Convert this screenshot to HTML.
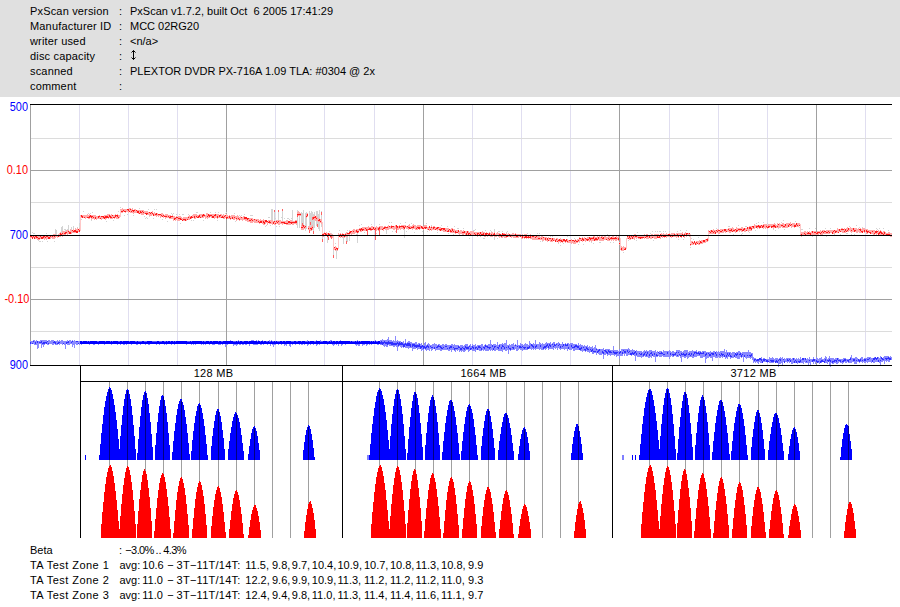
<!DOCTYPE html>
<html><head><meta charset="utf-8"><title>PxScan</title><style>
html,body{margin:0;padding:0}
body{width:900px;height:607px;overflow:hidden;background:#fff;position:relative;font-family:"Liberation Sans",sans-serif;color:#000}
#hdr{position:absolute;left:0;top:0;width:900px;height:97px;background:#e0e0e0}
.t{position:absolute;font-size:11px;line-height:13px;white-space:pre}
.yl{position:absolute;left:0;width:28px;text-align:right;font-size:13px;line-height:15px;white-space:pre;transform:scaleX(0.84);transform-origin:100% 50%}
.pl{position:absolute;width:120px;text-align:center;font-size:11px;line-height:13px;white-space:pre;letter-spacing:0.3px}
svg{position:absolute;left:0;top:0}
</style></head><body>
<div id="hdr"></div>
<svg width="900" height="607" viewBox="0 0 900 607" shape-rendering="crispEdges">
<rect x="79" y="105" width="1" height="260" fill="#e0def0"/>
<rect x="128" y="105" width="1" height="260" fill="#e0def0"/>
<rect x="177" y="105" width="1" height="260" fill="#e0def0"/>
<rect x="275" y="105" width="1" height="260" fill="#e0def0"/>
<rect x="324" y="105" width="1" height="260" fill="#e0def0"/>
<rect x="374" y="105" width="1" height="260" fill="#e0def0"/>
<rect x="472" y="105" width="1" height="260" fill="#e0def0"/>
<rect x="521" y="105" width="1" height="260" fill="#e0def0"/>
<rect x="570" y="105" width="1" height="260" fill="#e0def0"/>
<rect x="669" y="105" width="1" height="260" fill="#e0def0"/>
<rect x="718" y="105" width="1" height="260" fill="#e0def0"/>
<rect x="767" y="105" width="1" height="260" fill="#e0def0"/>
<rect x="865" y="105" width="1" height="260" fill="#e0def0"/>
<rect x="31" y="138" width="861" height="1" fill="#dcdcdc"/>
<rect x="31" y="202" width="861" height="1" fill="#dcdcdc"/>
<rect x="31" y="267" width="861" height="1" fill="#dcdcdc"/>
<rect x="31" y="331" width="861" height="1" fill="#dcdcdc"/>
<rect x="31" y="170" width="861" height="1" fill="#a0a0a0"/>
<rect x="31" y="299" width="861" height="1" fill="#a0a0a0"/>
<rect x="226" y="105" width="1" height="260" fill="#a0a0a0"/>
<rect x="423" y="105" width="1" height="260" fill="#a0a0a0"/>
<rect x="619" y="105" width="1" height="260" fill="#a0a0a0"/>
<rect x="816" y="105" width="1" height="260" fill="#a0a0a0"/>
<rect x="30" y="104" width="1" height="261" fill="#a0a0a0"/>
<path d="M32.5 232.3V233.3M33.5 233.0V234.0M34.5 232.9V233.9M38.5 240.1V241.1M39.5 240.5V241.5M40.5 240.8V241.8M42.5 240.6V241.6M46.5 233.3V234.3M47.5 240.8V241.8M54.5 240.8V241.8M55.5 229.0V236.2M56.5 230.3V236.1M60.5 231.5V234.7M61.5 226.6V234.3M62.5 229.8V230.8M62.5 226.0V233.9M64.5 228.8V229.8M65.5 229.1V232.9M67.5 229.0V230.0M68.5 224.9V232.3M71.5 227.2V228.2M71.5 226.5V231.7M73.5 225.5V231.3M77.5 227.1V230.8M79.5 225.1V226.1M79.5 222.8V230.6M81.5 219.2V220.2M83.5 211.1V212.1M88.5 213.1V214.1M90.5 212.7V213.7M91.5 220.3V221.3M92.5 212.3V213.3M106.5 220.8V221.8M113.5 220.1V221.1M118.5 211.2V212.2M120.5 206.7V207.7M124.5 214.7V215.7M127.5 214.3V215.3M133.5 214.7V215.7M139.5 208.4V209.4M144.5 215.6V216.6M145.5 217.5V218.5M146.5 216.7V217.7M147.5 217.8V218.8M148.5 208.9V209.9M149.5 216.3V217.3M153.5 217.9V218.9M154.5 208.9V209.9M156.5 209.2V210.2M162.5 218.5V219.5M167.5 220.9V221.9M171.5 212.8V213.8M172.5 213.6V214.6M173.5 213.4V214.4M176.5 214.1V215.1M179.5 214.0V215.0M180.5 222.9V223.9M182.5 214.0V215.0M183.5 214.2V215.2M188.5 213.8V214.8M191.5 219.9V220.9M193.5 219.6V220.6M196.5 212.1V213.1M197.5 211.5V212.5M203.5 220.1V221.1M210.5 211.5V212.5M215.5 212.0V213.0M217.5 220.0V221.0M218.5 211.6V212.6M225.5 213.1V214.1M226.5 212.2V213.2M234.5 212.5V213.5M235.5 221.0V222.0M239.5 214.6V215.6M241.5 214.9V215.9M244.5 213.8V214.8M250.5 215.4V216.4M251.5 214.6V215.6M252.5 214.9V215.9M265.5 225.8V226.8M266.5 225.4V226.4M268.5 216.8V217.8M269.5 217.3V218.3M270.5 225.2V226.2M271.5 209.1V222.3M272.5 209.3V222.3M274.5 209.7V222.5M275.5 217.5V218.5M276.5 226.3V227.3M278.5 209.7V222.5M279.5 225.9V226.9M281.5 217.4V218.4M282.5 209.1V222.5M284.5 217.7V218.7M287.5 217.9V218.9M288.5 218.1V219.1M289.5 218.7V219.7M291.5 217.6V218.6M292.5 210.2V222.5M297.5 210.2V227.5M299.5 212.7V228.3M301.5 211.7V227.6M302.5 222.0V223.0M302.5 212.8V228.0M303.5 210.3V228.4M305.5 213.0V230.6M306.5 212.0V229.3M309.5 210.7V230.8M310.5 213.0V227.7M311.5 210.6V230.2M312.5 211.8V229.4M313.5 213.6V231.0M314.5 211.9V227.9M316.5 211.4V226.3M317.5 210.8V227.1M318.5 213.7V228.5M319.5 223.8V224.8M319.5 210.1V231.0M321.5 210.8V226.9M322.5 232.0V242.4M327.5 232.7V243.0M328.5 232.9V240.0M329.5 231.3V232.3M331.5 233.3V239.3M333.5 246.0V258.2M335.5 243.0V244.0M336.5 246.7V259.2M338.5 238.4V239.4M339.5 230.3V231.3M343.5 233.5V243.6M346.5 232.8V244.3M347.5 230.4V231.4M347.5 232.2V242.2M349.5 229.7V230.7M349.5 231.2V240.7M356.5 234.0V235.0M357.5 230.8V242.6M359.5 224.7V225.7M361.5 224.4V225.4M364.5 232.0V233.0M371.5 224.0V225.0M376.5 232.7V233.7M379.5 223.6V224.6M386.5 227.7V234.2M389.5 222.1V223.1M391.5 222.2V223.2M392.5 231.1V232.1M395.5 231.2V232.2M400.5 222.6V223.6M404.5 227.1V238.0M405.5 222.2V223.2M406.5 231.2V232.2M411.5 222.7V223.7M414.5 231.5V232.5M422.5 231.3V232.3M426.5 222.5V223.5M427.5 231.3V232.3M431.5 224.7V225.7M437.5 231.5V232.5M441.5 224.6V225.6M447.5 226.2V227.2M448.5 233.2V234.2M453.5 233.8V234.8M454.5 225.8V226.8M457.5 227.6V228.6M458.5 228.1V229.1M463.5 228.3V229.3M469.5 237.5V238.5M473.5 230.2V231.2M474.5 229.9V230.9M475.5 229.1V230.1M483.5 238.2V239.2M484.5 237.9V238.9M485.5 230.4V231.4M490.5 230.2V231.2M491.5 230.6V231.6M494.5 229.4V240.0M497.5 237.8V238.8M498.5 230.5V231.5M499.5 230.5V231.5M502.5 231.4V232.4M506.5 231.6V232.6M507.5 230.8V231.8M527.5 233.2V234.2M537.5 233.4V234.4M539.5 232.8V233.8M540.5 240.7V241.7M542.5 241.2V242.2M550.5 235.7V236.7M552.5 235.8V236.8M558.5 243.1V244.1M560.5 244.8V245.8M563.5 243.3V244.3M567.5 236.2V237.2M574.5 237.5V238.5M578.5 244.1V245.1M579.5 242.3V243.3M583.5 243.5V244.5M589.5 236.5V241.6M591.5 241.8V242.8M593.5 243.1V244.1M595.5 235.0V236.0M599.5 242.0V243.0M600.5 241.9V242.9M607.5 233.6V234.6M610.5 242.0V243.0M613.5 241.7V242.7M623.5 252.2V253.2M628.5 240.2V241.2M636.5 239.9V240.9M637.5 232.0V233.0M650.5 232.6V233.6M652.5 231.1V232.1M653.5 240.0V241.0M655.5 231.3V232.3M657.5 231.4V232.4M659.5 230.7V231.7M660.5 231.0V232.0M663.5 230.9V231.9M665.5 230.9V231.9M669.5 231.0V232.0M677.5 230.5V231.5M678.5 239.2V240.2M680.5 230.2V231.2M683.5 238.6V239.6M686.5 229.8V230.8M690.5 246.7V247.7M691.5 238.3V239.3M693.5 238.7V239.7M698.5 237.4V238.4M716.5 227.9V228.9M720.5 235.0V236.0M728.5 225.9V226.9M729.5 225.9V226.9M733.5 234.2V235.2M738.5 224.5V225.5M741.5 233.7V234.7M742.5 233.3V234.3M745.5 225.8V226.8M746.5 225.6V226.6M749.5 231.8V232.8M755.5 229.5V230.5M756.5 222.5V223.5M758.5 222.0V223.0M763.5 221.5V222.5M767.5 222.5V223.5M773.5 229.4V230.4M775.5 229.9V230.9M778.5 228.3V229.3M781.5 222.1V223.1M783.5 220.4V221.4M784.5 229.3V230.3M795.5 220.5V221.5M799.5 227.3V228.3M801.5 229.2V230.2M802.5 228.5V229.5M809.5 228.1V229.1M812.5 236.0V237.0M815.5 228.3V229.3M825.5 227.5V228.5M826.5 235.9V236.9M829.5 234.5V235.5M830.5 227.9V228.9M834.5 234.1V235.1M840.5 234.4V235.4M846.5 233.0V234.0M847.5 233.1V234.1M849.5 226.0V227.0M851.5 234.1V235.1M854.5 234.1V235.1M856.5 225.1V226.1M859.5 226.6V227.6M862.5 226.8V227.8M872.5 235.4V236.4M876.5 227.5V228.5M877.5 228.6V229.6M879.5 227.5V228.5M883.5 228.1V229.1M888.5 230.4V231.4" stroke="#d4d4d4" stroke-width="1" fill="none"/>
<path d="M30.5 235.3V238.5M31.5 235.3V238.3M32.5 235.8V238.4M33.5 235.0V238.4M34.5 235.7V238.5M35.5 235.1V238.5M36.5 235.3V238.9M37.5 234.8V239.6M38.5 234.7V239.7M39.5 235.6V240.0M40.5 235.6V239.3M41.5 235.1V238.7M42.5 234.9V239.1M43.5 235.3V239.4M44.5 235.6V240.2M45.5 235.8V238.9M46.5 234.5V239.6M47.5 235.6V239.2M48.5 234.9V238.8M49.5 234.7V239.3M50.5 234.5V238.9M51.5 234.8V238.2M52.5 235.2V238.7M53.5 233.7V238.6M54.5 234.1V239.0M55.5 234.2V238.2M56.5 234.6V237.3M57.5 234.6V237.9M58.5 233.8V237.2M59.5 233.3V236.6M60.5 232.2V237.2M61.5 233.1V236.0M62.5 231.2V236.7M63.5 231.4V234.8M64.5 230.7V234.6M65.5 231.6V235.6M66.5 229.9V233.9M67.5 230.3V234.5M68.5 229.9V233.7M69.5 230.9V233.6M70.5 229.4V233.2M71.5 229.7V234.2M72.5 230.0V232.7M73.5 229.2V233.0M74.5 229.5V232.7M75.5 228.3V232.9M76.5 228.9V232.9M77.5 228.0V232.4M78.5 228.7V232.0M79.5 227.9V232.0M80.5 214.7V218.5M81.5 215.1V218.4M82.5 214.8V218.3M83.5 214.5V218.2M84.5 215.2V218.2M85.5 215.2V218.5M86.5 215.0V218.1M87.5 214.4V218.0M88.5 215.4V219.4M89.5 214.2V218.7M90.5 215.1V218.2M91.5 215.3V219.5M92.5 215.3V218.6M93.5 215.2V218.7M94.5 214.8V219.5M95.5 215.3V218.5M96.5 215.5V219.7M97.5 215.7V219.1M98.5 215.7V219.2M99.5 214.8V219.3M100.5 215.8V218.8M101.5 215.7V219.6M102.5 215.6V218.6M103.5 215.5V219.4M104.5 215.2V219.1M105.5 215.4V219.5M106.5 214.5V218.8M107.5 214.3V218.2M108.5 214.3V219.3M109.5 214.4V218.3M110.5 215.3V219.2M111.5 214.4V218.7M112.5 214.6V218.7M113.5 215.0V217.9M114.5 214.8V218.6M115.5 214.4V217.9M116.5 214.9V218.7M117.5 214.3V218.9M118.5 214.6V218.5M119.5 215.3V218.4M120.5 208.6V212.1M121.5 208.5V213.2M122.5 207.9V212.8M123.5 209.3V211.7M124.5 209.1V212.3M125.5 209.1V213.2M126.5 208.7V212.3M127.5 208.7V212.4M128.5 209.1V213.3M129.5 208.0V212.4M130.5 208.0V212.7M131.5 208.9V212.9M132.5 208.3V213.0M133.5 209.5V213.5M134.5 209.4V212.7M135.5 209.4V213.0M136.5 209.7V213.0M137.5 210.4V213.3M138.5 209.5V213.8M139.5 210.3V213.4M140.5 209.6V214.1M141.5 209.9V215.2M142.5 210.1V215.3M143.5 210.1V214.8M144.5 211.4V214.4M145.5 210.6V214.3M146.5 211.0V215.2M147.5 211.2V215.2M148.5 211.8V215.2M149.5 212.4V215.5M150.5 212.2V215.6M151.5 211.5V215.6M152.5 211.4V215.3M153.5 212.6V216.1M154.5 211.6V216.2M155.5 213.1V215.6M156.5 213.0V216.5M157.5 212.9V216.2M158.5 213.5V217.1M159.5 213.5V216.1M160.5 213.7V217.8M161.5 212.8V217.2M162.5 212.8V217.0M163.5 213.5V217.5M164.5 214.6V217.4M165.5 214.4V218.8M166.5 213.6V218.0M167.5 213.8V217.8M168.5 214.9V218.3M169.5 215.4V219.4M170.5 214.9V218.8M171.5 216.0V218.8M172.5 215.4V219.0M173.5 215.8V220.5M174.5 215.7V220.2M175.5 216.7V220.6M176.5 215.8V219.7M177.5 216.5V221.2M178.5 216.3V221.3M179.5 216.1V221.3M180.5 216.3V220.3M181.5 216.7V220.2M182.5 217.9V220.9M183.5 216.8V221.1M184.5 217.3V220.7M185.5 217.1V220.7M186.5 217.3V220.6M187.5 216.5V220.3M188.5 216.4V219.7M189.5 215.3V219.7M190.5 216.0V218.7M191.5 215.7V219.3M192.5 215.2V218.0M193.5 214.0V218.2M194.5 214.3V218.7M195.5 213.8V218.6M196.5 214.2V217.9M197.5 214.9V217.9M198.5 214.6V218.1M199.5 214.0V217.9M200.5 214.2V217.7M201.5 214.2V218.3M202.5 213.6V217.9M203.5 213.6V218.1M204.5 214.0V217.3M205.5 214.6V218.6M206.5 213.4V217.5M207.5 213.2V218.6M208.5 214.6V217.6M209.5 214.2V218.3M210.5 214.3V217.4M211.5 213.7V217.5M212.5 214.3V218.4M213.5 214.1V218.0M214.5 214.0V218.6M215.5 214.3V217.5M216.5 214.1V217.9M217.5 213.5V218.9M218.5 214.4V218.3M219.5 215.1V217.6M220.5 214.3V218.3M221.5 213.9V217.9M222.5 214.6V217.8M223.5 214.1V219.3M224.5 214.5V218.7M225.5 215.2V217.9M226.5 214.3V218.0M227.5 214.7V219.1M228.5 215.7V219.2M229.5 215.2V219.2M230.5 215.9V219.5M231.5 215.1V218.8M232.5 214.8V219.1M233.5 215.3V220.3M234.5 215.0V220.4M235.5 216.3V219.3M236.5 216.4V220.6M237.5 215.3V220.0M238.5 215.6V220.1M239.5 216.8V220.5M240.5 216.3V219.9M241.5 217.3V220.0M242.5 216.6V220.5M243.5 216.2V220.1M244.5 216.2V220.3M245.5 216.9V220.7M246.5 217.7V221.0M247.5 217.8V221.8M248.5 217.6V222.1M249.5 217.9V222.2M250.5 218.4V222.5M251.5 218.4V222.5M252.5 218.1V223.0M253.5 218.8V221.9M254.5 218.6V223.4M255.5 219.4V223.4M256.5 219.0V223.2M257.5 219.0V222.6M258.5 218.5V222.7M259.5 220.2V223.5M260.5 219.4V223.3M261.5 220.0V223.3M262.5 220.0V224.1M263.5 219.4V224.5M264.5 220.2V224.5M265.5 220.4V224.1M266.5 220.0V223.4M267.5 220.8V224.6M268.5 220.4V223.3M269.5 220.2V224.3M270.5 220.0V224.1M271.5 219.9V223.7M272.5 220.1V224.9M273.5 221.0V224.0M274.5 220.7V225.0M275.5 220.8V224.9M276.5 220.3V224.1M277.5 220.4V223.9M278.5 219.7V225.2M279.5 220.3V224.9M280.5 220.4V223.9M281.5 220.9V224.3M282.5 220.7V224.7M283.5 220.8V224.3M284.5 220.5V224.3M285.5 221.1V223.9M286.5 219.9V225.0M287.5 220.2V225.1M288.5 220.6V225.1M289.5 220.5V225.1M290.5 220.2V224.5M291.5 220.2V224.0M292.5 220.8V225.3M293.5 220.8V225.1M294.5 221.0V224.4M295.5 220.0V224.3M296.5 220.3V225.0M297.5 211.8V216.5M298.5 211.3V216.2M299.5 211.8V216.2M300.5 212.6V215.5M301.5 225.2V229.5M302.5 224.8V229.7M303.5 224.8V229.8M304.5 224.8V228.9M305.5 225.5V228.4M306.5 213.6V218.3M307.5 213.3V217.3M308.5 225.8V229.8M309.5 225.8V229.7M310.5 226.5V230.5M311.5 225.8V230.5M312.5 225.2V229.6M313.5 215.7V219.8M314.5 215.2V219.8M315.5 215.8V221.0M316.5 216.0V220.9M317.5 217.2V220.9M318.5 218.1V221.9M319.5 218.5V222.2M320.5 218.8V222.9M321.5 218.8V223.8M322.5 231.9V236.6M323.5 232.8V236.9M324.5 232.0V236.1M325.5 232.9V235.7M326.5 232.0V235.8M327.5 233.4V236.1M328.5 233.5V236.6M329.5 232.7V236.2M330.5 233.3V237.5M331.5 234.1V236.6M332.5 233.7V237.8M333.5 246.6V249.9M334.5 246.8V250.2M335.5 246.0V251.1M336.5 247.0V250.2M337.5 247.5V251.1M338.5 233.0V238.2M339.5 234.1V237.0M340.5 233.1V237.9M341.5 234.0V237.2M342.5 232.8V237.5M343.5 234.2V237.4M344.5 234.2V237.8M345.5 232.5V236.6M346.5 232.3V237.3M347.5 233.0V236.7M348.5 232.5V236.4M349.5 231.3V234.8M350.5 231.2V234.2M351.5 231.1V234.7M352.5 230.4V234.1M353.5 229.2V234.4M354.5 228.9V234.1M355.5 230.1V233.4M356.5 229.2V233.3M357.5 229.2V232.6M358.5 229.2V233.0M359.5 227.7V231.4M360.5 228.2V232.1M361.5 228.0V231.6M362.5 227.3V231.1M363.5 226.9V230.8M364.5 227.3V231.0M365.5 227.0V231.0M366.5 226.5V230.6M367.5 227.0V229.8M368.5 226.1V229.9M369.5 226.8V230.3M370.5 226.5V230.9M371.5 226.2V231.2M372.5 226.4V230.4M373.5 226.6V230.4M374.5 226.7V230.2M375.5 227.0V230.2M376.5 225.9V230.9M377.5 227.1V229.9M378.5 226.6V230.5M379.5 226.3V229.5M380.5 226.0V230.3M381.5 226.2V230.3M382.5 225.5V229.5M383.5 226.6V230.6M384.5 226.0V229.3M385.5 226.3V230.0M386.5 226.5V229.6M387.5 225.5V229.9M388.5 225.4V229.7M389.5 226.1V229.0M390.5 225.5V229.4M391.5 225.3V228.9M392.5 226.1V228.9M393.5 225.5V229.6M394.5 225.7V230.0M395.5 224.6V229.4M396.5 225.5V229.2M397.5 226.1V229.9M398.5 225.6V229.5M399.5 225.2V229.1M400.5 226.0V229.7M401.5 224.7V228.8M402.5 225.1V228.9M403.5 224.5V230.0M404.5 225.3V229.2M405.5 224.7V228.4M406.5 225.5V228.6M407.5 225.6V229.4M408.5 225.3V229.6M409.5 224.3V228.5M410.5 225.8V229.3M411.5 225.7V228.7M412.5 225.2V229.5M413.5 224.4V229.2M414.5 224.9V229.3M415.5 225.1V229.5M416.5 225.5V229.7M417.5 224.5V229.5M418.5 225.4V229.1M419.5 225.4V229.6M420.5 225.4V228.9M421.5 226.0V228.9M422.5 226.0V229.2M423.5 226.0V229.6M424.5 225.0V229.1M425.5 225.3V229.2M426.5 225.3V229.2M427.5 226.5V229.6M428.5 226.5V229.3M429.5 225.7V230.8M430.5 226.7V230.2M431.5 225.6V230.5M432.5 226.9V230.1M433.5 226.1V229.8M434.5 226.3V230.3M435.5 227.0V229.9M436.5 226.8V230.0M437.5 226.6V231.0M438.5 227.0V230.4M439.5 226.5V230.8M440.5 227.3V231.0M441.5 227.6V231.1M442.5 227.5V231.4M443.5 228.2V232.0M444.5 227.8V231.5M445.5 227.6V232.4M446.5 227.8V232.1M447.5 228.2V231.7M448.5 228.0V231.8M449.5 229.0V232.4M450.5 228.7V233.2M451.5 227.9V233.1M452.5 228.1V233.0M453.5 229.4V232.8M454.5 228.5V232.5M455.5 229.9V233.7M456.5 230.1V233.3M457.5 229.5V233.0M458.5 229.9V234.3M459.5 230.5V234.6M460.5 229.9V233.7M461.5 230.3V233.5M462.5 231.1V234.9M463.5 230.0V235.3M464.5 231.0V234.1M465.5 231.1V234.8M466.5 231.0V234.5M467.5 230.8V234.6M468.5 231.2V235.4M469.5 232.1V234.9M470.5 231.1V235.0M471.5 231.0V235.2M472.5 231.3V235.9M473.5 231.0V236.2M474.5 231.8V235.6M475.5 232.2V235.9M476.5 232.3V236.0M477.5 232.0V236.5M478.5 232.3V235.2M479.5 232.1V235.5M480.5 231.7V236.8M481.5 232.3V235.5M482.5 231.4V235.7M483.5 231.9V235.9M484.5 232.4V236.9M485.5 233.0V236.5M486.5 231.8V236.1M487.5 232.9V237.1M488.5 232.5V235.7M489.5 232.4V236.3M490.5 233.2V237.0M491.5 231.9V236.8M492.5 232.2V237.3M493.5 232.6V236.4M494.5 232.1V237.4M495.5 233.6V237.3M496.5 233.3V236.6M497.5 232.3V236.1M498.5 232.7V236.6M499.5 232.5V237.7M500.5 233.6V237.3M501.5 233.5V237.7M502.5 232.5V237.9M503.5 233.2V236.9M504.5 233.0V237.5M505.5 233.8V237.5M506.5 233.0V237.7M507.5 234.0V237.3M508.5 232.7V236.7M509.5 233.9V236.8M510.5 234.0V236.8M511.5 234.3V237.5M512.5 233.2V237.3M513.5 233.3V238.3M514.5 234.1V237.7M515.5 233.0V238.3M516.5 233.5V237.7M517.5 233.9V238.0M518.5 233.9V237.7M519.5 234.2V237.3M520.5 233.5V237.4M521.5 234.5V238.7M522.5 234.1V239.0M523.5 234.9V238.1M524.5 233.7V239.0M525.5 234.0V238.4M526.5 234.4V238.7M527.5 234.8V238.1M528.5 234.9V239.1M529.5 234.9V238.2M530.5 234.4V238.7M531.5 235.8V238.6M532.5 234.6V239.6M533.5 235.5V239.5M534.5 235.3V240.2M535.5 236.0V240.1M536.5 235.0V239.9M537.5 235.4V239.6M538.5 235.8V240.4M539.5 235.7V240.0M540.5 236.8V240.1M541.5 235.8V240.2M542.5 235.5V240.8M543.5 236.9V240.5M544.5 236.9V240.4M545.5 237.1V240.5M546.5 237.3V241.1M547.5 237.5V241.6M548.5 236.7V240.3M549.5 237.6V241.1M550.5 237.5V241.7M551.5 238.1V241.6M552.5 237.6V241.8M553.5 238.2V241.0M554.5 237.6V241.4M555.5 238.6V242.3M556.5 237.9V241.8M557.5 237.6V241.6M558.5 238.5V242.5M559.5 238.7V242.3M560.5 238.3V242.6M561.5 239.1V242.2M562.5 238.7V243.1M563.5 238.6V242.1M564.5 238.9V242.4M565.5 239.6V243.0M566.5 239.0V242.2M567.5 238.9V242.8M568.5 239.9V243.3M569.5 239.8V242.7M570.5 239.6V243.3M571.5 239.2V244.0M572.5 239.7V242.7M573.5 239.9V243.8M574.5 239.6V243.7M575.5 238.8V243.6M576.5 239.6V243.1M577.5 238.6V243.2M578.5 238.8V241.7M579.5 237.0V242.0M580.5 237.7V240.8M581.5 237.6V241.3M582.5 237.4V241.8M583.5 238.0V241.3M584.5 236.7V241.0M585.5 237.8V242.0M586.5 237.7V241.1M587.5 236.8V241.0M588.5 236.6V240.9M589.5 236.9V241.6M590.5 236.5V240.8M591.5 237.2V241.5M592.5 237.0V240.9M593.5 236.2V240.6M594.5 236.1V240.6M595.5 237.2V241.3M596.5 236.6V240.9M597.5 236.2V240.9M598.5 236.6V240.3M599.5 236.2V241.2M600.5 237.3V241.1M601.5 235.9V240.9M602.5 235.8V241.1M603.5 236.7V240.9M604.5 236.4V240.4M605.5 236.2V240.3M606.5 236.9V240.0M607.5 237.1V240.5M608.5 236.4V241.3M609.5 235.9V240.5M610.5 236.7V240.2M611.5 237.0V241.1M612.5 235.9V240.4M613.5 236.0V241.1M614.5 236.9V240.1M615.5 236.6V241.0M616.5 236.3V240.8M617.5 236.8V240.3M618.5 235.9V240.6M619.5 241.8V244.8M620.5 246.4V250.3M621.5 246.0V251.0M622.5 246.5V251.1M623.5 246.0V250.7M624.5 246.9V249.8M625.5 247.0V250.1M626.5 240.5V244.8M627.5 235.8V238.7M628.5 236.1V239.3M629.5 235.8V239.6M630.5 235.8V239.8M631.5 235.2V238.6M632.5 235.4V238.6M633.5 235.4V239.2M634.5 234.4V239.7M635.5 234.4V238.4M636.5 234.8V239.4M637.5 234.6V238.4M638.5 234.6V239.4M639.5 235.3V239.4M640.5 235.7V238.7M641.5 234.5V238.9M642.5 235.1V238.6M643.5 234.9V238.0M644.5 234.2V238.5M645.5 235.4V238.4M646.5 234.1V238.7M647.5 234.4V239.3M648.5 234.5V239.0M649.5 234.6V237.9M650.5 235.2V239.0M651.5 234.3V239.1M652.5 234.3V238.3M653.5 234.5V237.7M654.5 233.6V238.6M655.5 234.1V238.6M656.5 234.2V238.8M657.5 234.3V238.4M658.5 233.7V237.3M659.5 234.8V237.3M660.5 233.8V238.6M661.5 233.3V237.3M662.5 234.2V237.9M663.5 233.2V237.1M664.5 233.5V238.0M665.5 234.2V237.2M666.5 232.9V237.9M667.5 234.3V237.2M668.5 234.2V237.2M669.5 233.4V237.3M670.5 233.5V237.3M671.5 233.1V237.9M672.5 233.0V236.6M673.5 232.7V236.8M674.5 232.9V236.9M675.5 233.9V237.1M676.5 232.5V237.6M677.5 232.7V236.8M678.5 233.3V237.6M679.5 233.0V236.4M680.5 232.8V236.8M681.5 232.9V237.6M682.5 232.1V236.2M683.5 233.6V236.4M684.5 233.3V237.5M685.5 232.0V236.1M686.5 232.5V236.9M687.5 232.9V235.9M688.5 233.1V236.0M689.5 232.9V237.0M690.5 241.6V245.8M691.5 240.9V244.6M692.5 241.0V244.9M693.5 241.7V245.4M694.5 240.5V244.4M695.5 241.7V244.6M696.5 241.1V244.9M697.5 241.0V244.2M698.5 241.2V245.1M699.5 240.1V245.1M700.5 241.1V243.7M701.5 240.1V244.0M702.5 239.9V243.7M703.5 239.5V242.7M704.5 239.5V242.8M705.5 239.2V243.0M706.5 238.7V241.8M707.5 238.1V241.9M708.5 229.8V235.0M709.5 231.0V234.0M710.5 230.3V233.9M711.5 229.5V234.3M712.5 229.5V234.2M713.5 229.2V233.6M714.5 229.5V234.0M715.5 229.7V234.1M716.5 229.8V233.2M717.5 228.6V232.9M718.5 229.2V234.0M719.5 229.5V233.9M720.5 229.3V232.8M721.5 229.3V233.4M722.5 228.9V232.9M723.5 229.1V232.6M724.5 229.3V232.4M725.5 229.3V233.1M726.5 229.0V232.0M727.5 229.1V232.4M728.5 227.8V231.7M729.5 227.8V232.9M730.5 228.3V232.6M731.5 228.3V232.4M732.5 227.4V232.4M733.5 227.6V232.4M734.5 228.8V232.0M735.5 228.5V232.7M736.5 227.2V231.4M737.5 228.3V232.2M738.5 228.4V231.3M739.5 227.5V231.9M740.5 227.6V231.4M741.5 227.3V231.8M742.5 227.3V231.7M743.5 228.0V230.7M744.5 228.1V232.0M745.5 228.1V231.8M746.5 227.7V230.9M747.5 227.8V230.7M748.5 227.4V231.5M749.5 226.3V230.7M750.5 226.2V230.5M751.5 225.5V230.7M752.5 226.1V229.0M753.5 225.9V228.7M754.5 224.2V228.9M755.5 224.6V227.7M756.5 224.8V228.3M757.5 224.8V228.6M758.5 224.9V228.1M759.5 224.6V228.7M760.5 224.5V228.4M761.5 224.6V228.0M762.5 224.7V227.5M763.5 223.6V228.5M764.5 224.3V227.5M765.5 224.2V228.7M766.5 223.8V228.2M767.5 224.8V228.5M768.5 223.8V227.3M769.5 224.3V228.1M770.5 223.6V227.3M771.5 223.9V228.3M772.5 224.1V227.5M773.5 224.1V228.5M774.5 223.1V228.0M775.5 223.5V227.3M776.5 224.6V227.8M777.5 223.0V228.0M778.5 223.5V228.0M779.5 223.3V227.9M780.5 223.9V228.2M781.5 223.8V227.4M782.5 223.3V228.0M783.5 223.0V227.7M784.5 223.8V227.7M785.5 224.1V228.0M786.5 222.7V228.0M787.5 222.6V227.7M788.5 222.5V227.1M789.5 222.8V226.9M790.5 222.4V226.3M791.5 223.7V227.6M792.5 223.1V227.2M793.5 223.2V226.6M794.5 223.1V227.5M795.5 223.5V226.7M796.5 222.9V227.4M797.5 223.4V226.8M798.5 223.2V226.6M799.5 222.8V226.1M800.5 231.8V235.3M801.5 231.9V236.7M802.5 232.1V236.4M803.5 231.7V236.2M804.5 231.0V235.3M805.5 231.0V236.4M806.5 232.2V235.8M807.5 231.4V235.1M808.5 231.5V234.8M809.5 231.0V235.0M810.5 231.8V235.4M811.5 230.9V234.9M812.5 231.9V235.9M813.5 231.2V235.3M814.5 230.6V234.6M815.5 230.8V234.6M816.5 231.5V234.6M817.5 230.7V234.8M818.5 230.7V234.7M819.5 231.4V234.0M820.5 230.0V234.8M821.5 231.2V235.0M822.5 230.2V235.2M823.5 230.0V233.6M824.5 230.4V234.0M825.5 230.8V234.3M826.5 229.6V234.0M827.5 230.1V233.8M828.5 230.4V233.8M829.5 229.9V233.6M830.5 230.3V233.1M831.5 229.9V233.2M832.5 230.3V233.1M833.5 230.2V234.2M834.5 229.7V233.7M835.5 230.2V232.8M836.5 229.9V232.8M837.5 228.4V233.0M838.5 229.3V232.7M839.5 228.6V232.4M840.5 228.5V232.1M841.5 228.1V231.9M842.5 228.3V232.6M843.5 228.5V232.5M844.5 228.4V233.0M845.5 228.5V232.6M846.5 228.4V232.1M847.5 227.2V231.5M848.5 227.5V231.5M849.5 227.8V231.4M850.5 227.3V231.9M851.5 227.9V232.5M852.5 227.7V231.8M853.5 228.7V231.9M854.5 228.4V231.4M855.5 227.9V232.4M856.5 228.0V232.6M857.5 228.7V232.5M858.5 227.7V232.2M859.5 228.9V232.5M860.5 228.4V233.2M861.5 228.5V233.4M862.5 228.2V232.4M863.5 228.2V232.4M864.5 228.2V233.4M865.5 229.2V232.4M866.5 228.9V233.6M867.5 228.6V234.0M868.5 229.6V232.9M869.5 230.0V233.4M870.5 230.3V234.4M871.5 230.4V234.0M872.5 229.9V233.7M873.5 230.3V234.6M874.5 230.3V235.0M875.5 230.9V233.9M876.5 230.2V234.7M877.5 231.1V234.0M878.5 230.0V234.1M879.5 230.9V234.7M880.5 230.4V234.6M881.5 230.9V236.0M882.5 232.2V235.6M883.5 231.0V235.6M884.5 231.0V235.9M885.5 231.8V235.7M886.5 232.7V235.5M887.5 232.8V236.3M888.5 232.3V235.6M889.5 232.1V236.2M890.5 233.0V237.2M891.5 233.0V236.9" stroke="#ffaaaa" stroke-width="1" fill="none"/>
<path d="M274.5 209.7V211.7M278.5 209.7V211.7M282.5 209.1V211.1M297.5 213.5V216.5M302.5 223.1V226.1M309.5 229.9V232.9M310.5 222.1V225.1M312.5 216.5V219.5M313.5 230.5V233.5M317.5 223.9V226.9M321.5 211.6V214.6M322.5 239.4V242.4M328.5 237.0V240.0M331.5 236.3V239.3M333.5 255.2V258.2M346.5 241.3V244.3M367.5 228.5V235.6M375.5 228.5V239.8M379.5 228.2V235.2M396.5 227.3V232.7" stroke="#ff6060" stroke-width="1" fill="none"/>
<path d="M30.5 235.2V236.6M31.5 235.2V236.6M32.5 237.2V238.6M33.5 235.3V236.7M34.5 237.2V238.6M35.5 235.7V237.1M36.5 236.4V237.8M37.5 236.7V238.1M38.5 237.8V239.2M39.5 237.8V239.2M40.5 235.6V237.0M41.5 237.1V238.5M42.5 237.1V238.5M43.5 236.2V237.6M44.5 235.9V237.3M45.5 236.9V238.3M46.5 235.9V237.3M47.5 235.9V237.3M48.5 237.3V238.7M49.5 237.2V238.6M50.5 235.8V237.2M52.5 236.0V237.4M53.5 235.0V236.4M54.5 235.5V236.9M55.5 234.5V235.9M58.5 235.4V236.8M60.5 233.3V234.7M61.5 234.1V235.5M62.5 232.5V233.9M64.5 233.0V234.4M65.5 232.1V233.5M66.5 231.9V233.3M68.5 230.7V232.1M69.5 232.1V233.5M70.5 232.2V233.6M72.5 230.0V231.4M73.5 230.7V232.1M74.5 230.4V231.8M75.5 230.3V231.7M76.5 231.3V232.7M77.5 231.2V232.6M78.5 228.9V230.3M79.5 230.3V231.7M81.5 215.4V216.8M82.5 216.4V217.8M84.5 216.6V218.0M87.5 216.5V217.9M88.5 216.8V218.2M89.5 216.2V217.6M90.5 215.4V216.8M91.5 216.2V217.6M92.5 215.5V216.9M93.5 216.5V217.9M95.5 217.1V218.5M98.5 216.3V217.7M99.5 215.5V216.9M100.5 217.5V218.9M101.5 215.5V216.9M102.5 215.6V217.0M103.5 216.4V217.8M104.5 217.3V218.7M105.5 216.4V217.8M106.5 216.4V217.8M107.5 216.1V217.5M108.5 217.0V218.4M109.5 215.1V216.5M110.5 216.3V217.7M111.5 216.7V218.1M112.5 214.9V216.3M113.5 216.5V217.9M114.5 216.6V218.0M115.5 215.3V216.7M116.5 214.8V216.2M117.5 215.3V216.7M118.5 216.8V218.2M120.5 210.9V212.3M121.5 210.6V212.0M122.5 210.8V212.2M123.5 209.7V211.1M124.5 210.7V212.1M125.5 210.8V212.2M127.5 208.7V210.1M128.5 209.3V210.7M129.5 210.5V211.9M130.5 208.8V210.2M131.5 211.0V212.4M132.5 210.0V211.4M133.5 210.1V211.5M134.5 209.8V211.2M136.5 209.9V211.3M137.5 211.2V212.6M138.5 211.3V212.7M139.5 212.6V214.0M140.5 211.4V212.8M141.5 211.5V212.9M142.5 210.8V212.2M143.5 211.9V213.3M145.5 212.5V213.9M146.5 213.2V214.6M147.5 212.9V214.3M149.5 211.8V213.2M150.5 213.0V214.4M151.5 211.9V213.3M152.5 212.6V214.0M153.5 214.4V215.8M155.5 213.5V214.9M156.5 213.4V214.8M158.5 213.8V215.2M159.5 213.9V215.3M160.5 214.0V215.4M161.5 214.5V215.9M162.5 215.8V217.2M163.5 214.9V216.3M164.5 215.5V216.9M165.5 216.0V217.4M166.5 215.8V217.2M168.5 216.0V217.4M169.5 217.0V218.4M170.5 216.1V217.5M171.5 216.0V217.4M172.5 215.8V217.2M174.5 218.1V219.5M175.5 217.5V218.9M176.5 216.9V218.3M177.5 217.0V218.4M178.5 217.8V219.2M179.5 217.5V218.9M180.5 218.2V219.6M181.5 218.8V220.2M182.5 219.7V221.1M183.5 218.9V220.3M184.5 218.5V219.9M185.5 219.1V220.5M187.5 218.8V220.2M188.5 216.7V218.1M190.5 217.1V218.5M191.5 216.4V217.8M192.5 216.6V218.0M194.5 216.3V217.7M196.5 215.8V217.2M197.5 216.6V218.0M198.5 216.4V217.8M199.5 215.3V216.7M200.5 216.7V218.1M202.5 215.1V216.5M203.5 214.2V215.6M204.5 215.0V216.4M207.5 215.9V217.3M208.5 214.3V215.7M209.5 215.1V216.5M210.5 214.7V216.1M211.5 214.9V216.3M212.5 216.1V217.5M213.5 216.3V217.7M214.5 215.0V216.4M215.5 214.4V215.8M217.5 216.1V217.5M219.5 215.1V216.5M220.5 214.8V216.2M221.5 216.5V217.9M222.5 216.2V217.6M223.5 216.7V218.1M224.5 216.0V217.4M225.5 214.8V216.2M226.5 217.2V218.6M227.5 216.5V217.9M229.5 216.3V217.7M230.5 217.8V219.2M232.5 217.1V218.5M234.5 217.0V218.4M236.5 217.8V219.2M238.5 217.7V219.1M239.5 218.7V220.1M241.5 216.7V218.1M244.5 217.3V218.7M245.5 217.4V218.8M246.5 217.4V218.8M247.5 218.3V219.7M248.5 217.7V219.1M249.5 219.6V221.0M250.5 220.0V221.4M251.5 219.0V220.4M252.5 219.7V221.1M254.5 218.9V220.3M256.5 219.7V221.1M258.5 221.0V222.4M259.5 221.6V223.0M260.5 221.3V222.7M261.5 221.4V222.8M263.5 221.3V222.7M264.5 222.2V223.6M265.5 220.3V221.7M266.5 220.3V221.7M267.5 220.6V222.0M268.5 222.0V223.4M269.5 221.2V222.6M270.5 221.8V223.2M273.5 222.2V223.6M274.5 221.0V222.4M275.5 223.0V224.4M276.5 220.7V222.1M277.5 221.6V223.0M278.5 221.0V222.4M281.5 221.6V223.0M282.5 221.8V223.2M283.5 222.0V223.4M284.5 222.2V223.6M285.5 222.5V223.9M286.5 222.8V224.2M287.5 222.6V224.0M288.5 221.2V222.6M289.5 221.2V222.6M290.5 221.7V223.1M291.5 222.2V223.6M292.5 221.8V223.2M293.5 221.7V223.1M294.5 221.9V223.3M295.5 221.2V222.6M296.5 221.3V222.7M297.5 213.9V215.3M298.5 214.0V215.4M299.5 213.5V214.9M300.5 214.0V215.4M301.5 226.5V227.9M302.5 226.5V227.9M303.5 225.4V226.8M304.5 226.7V228.1M305.5 225.7V227.1M306.5 215.9V217.3M307.5 214.2V215.6M308.5 227.6V229.0M310.5 228.0V229.4M311.5 228.2V229.6M312.5 227.0V228.4M313.5 217.2V218.6M314.5 217.0V218.4M315.5 216.4V217.8M316.5 217.7V219.1M318.5 219.7V221.1M319.5 219.1V220.5M320.5 220.7V222.1M322.5 234.4V235.8M323.5 233.6V235.0M324.5 232.7V234.1M325.5 233.4V234.8M326.5 234.4V235.8M327.5 235.1V236.5M328.5 233.2V234.6M329.5 233.5V234.9M330.5 235.6V237.0M332.5 234.6V236.0M333.5 246.1V247.5M334.5 246.7V248.1M335.5 248.6V250.0M336.5 247.7V249.1M337.5 248.2V249.6M338.5 234.5V235.9M339.5 235.3V236.7M340.5 233.9V235.3M341.5 235.3V236.7M342.5 234.3V235.7M343.5 233.9V235.3M344.5 235.7V237.1M345.5 233.9V235.3M346.5 235.0V236.4M347.5 232.9V234.3M348.5 232.5V233.9M349.5 232.2V233.6M350.5 231.2V232.6M351.5 231.0V232.4M353.5 230.6V232.0M356.5 230.4V231.8M357.5 231.3V232.7M358.5 230.8V232.2M359.5 228.5V229.9M360.5 229.4V230.8M361.5 228.1V229.5M362.5 229.4V230.8M363.5 228.7V230.1M365.5 227.8V229.2M366.5 229.1V230.5M368.5 228.9V230.3M369.5 228.1V229.5M370.5 228.4V229.8M371.5 228.7V230.1M372.5 228.7V230.1M373.5 227.3V228.7M374.5 228.7V230.1M375.5 228.0V229.4M378.5 228.4V229.8M379.5 227.4V228.8M382.5 228.5V229.9M383.5 228.0V229.4M384.5 227.2V228.6M385.5 226.7V228.1M386.5 226.6V228.0M387.5 227.0V228.4M389.5 225.8V227.2M391.5 226.2V227.6M392.5 225.5V226.9M393.5 225.6V227.0M396.5 225.4V226.8M397.5 226.3V227.7M399.5 226.2V227.6M400.5 225.6V227.0M401.5 225.8V227.2M402.5 225.7V227.1M403.5 226.3V227.7M404.5 227.1V228.5M405.5 225.5V226.9M407.5 225.8V227.2M408.5 226.7V228.1M409.5 227.1V228.5M410.5 227.6V229.0M411.5 226.6V228.0M412.5 227.0V228.4M413.5 226.4V227.8M416.5 227.6V229.0M417.5 226.7V228.1M418.5 227.1V228.5M419.5 227.1V228.5M421.5 226.1V227.5M422.5 227.1V228.5M423.5 227.9V229.3M424.5 226.5V227.9M425.5 227.3V228.7M426.5 226.8V228.2M428.5 228.5V229.9M429.5 226.4V227.8M430.5 228.5V229.9M431.5 226.9V228.3M433.5 227.3V228.7M434.5 226.9V228.3M435.5 228.7V230.1M436.5 227.8V229.2M437.5 227.4V228.8M438.5 226.9V228.3M439.5 228.7V230.1M440.5 229.2V230.6M441.5 228.1V229.5M442.5 227.8V229.2M443.5 228.4V229.8M444.5 228.1V229.5M445.5 229.7V231.1M447.5 230.6V232.0M448.5 230.1V231.5M449.5 228.7V230.1M450.5 230.4V231.8M451.5 230.9V232.3M452.5 229.3V230.7M453.5 230.6V232.0M455.5 231.3V232.7M456.5 231.9V233.3M457.5 231.7V233.1M458.5 230.1V231.5M462.5 232.0V233.4M463.5 231.7V233.1M464.5 231.3V232.7M466.5 233.2V234.6M467.5 231.3V232.7M468.5 233.1V234.5M469.5 232.9V234.3M470.5 234.0V235.4M474.5 232.5V233.9M475.5 234.2V235.6M477.5 233.1V234.5M478.5 232.6V234.0M479.5 234.2V235.6M480.5 232.3V233.7M481.5 233.5V234.9M482.5 234.0V235.4M483.5 233.3V234.7M485.5 233.1V234.5M486.5 233.2V234.6M487.5 233.0V234.4M488.5 234.1V235.5M489.5 233.2V234.6M491.5 234.0V235.4M493.5 233.8V235.2M494.5 233.3V234.7M497.5 234.7V236.1M499.5 233.8V235.2M500.5 234.2V235.6M501.5 235.1V236.5M502.5 233.2V234.6M503.5 234.4V235.8M504.5 234.1V235.5M505.5 233.7V235.1M506.5 235.6V237.0M507.5 235.1V236.5M509.5 233.6V235.0M510.5 236.0V237.4M511.5 234.5V235.9M512.5 235.0V236.4M515.5 234.0V235.4M516.5 235.6V237.0M517.5 235.5V236.9M520.5 235.8V237.2M522.5 236.2V237.6M523.5 234.8V236.2M524.5 236.8V238.2M525.5 236.4V237.8M526.5 236.4V237.8M527.5 236.6V238.0M528.5 236.2V237.6M529.5 236.5V237.9M530.5 236.2V237.6M532.5 235.4V236.8M533.5 236.0V237.4M535.5 236.7V238.1M536.5 236.0V237.4M538.5 237.8V239.2M539.5 237.9V239.3M541.5 238.0V239.4M543.5 236.7V238.1M545.5 238.1V239.5M547.5 238.1V239.5M548.5 239.5V240.9M549.5 237.8V239.2M550.5 237.9V239.3M551.5 239.8V241.2M552.5 238.3V239.7M553.5 239.7V241.1M555.5 240.1V241.5M556.5 238.5V239.9M557.5 240.7V242.1M558.5 239.7V241.1M559.5 239.4V240.8M560.5 239.8V241.2M561.5 240.1V241.5M562.5 241.0V242.4M563.5 239.3V240.7M564.5 239.3V240.7M565.5 240.3V241.7M566.5 239.2V240.6M567.5 240.7V242.1M569.5 239.9V241.3M570.5 239.9V241.3M572.5 239.5V240.9M573.5 239.9V241.3M574.5 240.9V242.3M575.5 240.0V241.4M576.5 241.0V242.4M577.5 240.9V242.3M578.5 239.8V241.2M579.5 237.9V239.3M580.5 237.7V239.1M581.5 239.9V241.3M582.5 238.1V239.5M583.5 239.1V240.5M585.5 237.9V239.3M586.5 238.5V239.9M587.5 239.2V240.6M588.5 238.8V240.2M589.5 237.1V238.5M590.5 238.2V239.6M591.5 237.7V239.1M592.5 237.5V238.9M593.5 237.3V238.7M594.5 239.2V240.6M595.5 238.1V239.5M596.5 238.4V239.8M597.5 238.6V240.0M598.5 237.4V238.8M601.5 236.6V238.0M602.5 238.0V239.4M603.5 237.3V238.7M606.5 238.6V240.0M608.5 237.5V238.9M609.5 238.9V240.3M610.5 237.7V239.1M611.5 237.2V238.6M612.5 237.5V238.9M613.5 237.7V239.1M614.5 237.9V239.3M615.5 237.3V238.7M616.5 237.5V238.9M618.5 238.2V239.6M619.5 242.8V244.2M620.5 247.2V248.6M621.5 248.2V249.6M624.5 248.6V250.0M625.5 248.2V249.6M626.5 241.2V242.6M627.5 235.9V237.3M628.5 237.5V238.9M629.5 236.3V237.7M630.5 237.5V238.9M631.5 235.4V236.8M632.5 237.1V238.5M633.5 235.8V237.2M635.5 235.5V236.9M636.5 236.0V237.4M638.5 236.9V238.3M639.5 236.9V238.3M640.5 237.1V238.5M641.5 236.5V237.9M642.5 236.7V238.1M643.5 236.8V238.2M645.5 237.0V238.4M646.5 235.7V237.1M647.5 235.4V236.8M648.5 235.0V236.4M649.5 236.4V237.8M652.5 236.7V238.1M653.5 234.7V236.1M656.5 234.5V235.9M657.5 236.4V237.8M658.5 236.6V238.0M659.5 236.4V237.8M660.5 234.4V235.8M661.5 235.3V236.7M663.5 235.5V236.9M664.5 235.5V236.9M665.5 235.9V237.3M666.5 235.0V236.4M668.5 234.4V235.8M669.5 233.8V235.2M670.5 235.1V236.5M672.5 235.5V236.9M674.5 234.2V235.6M677.5 234.2V235.6M678.5 235.1V236.5M680.5 235.4V236.8M681.5 235.3V236.7M682.5 233.6V235.0M683.5 235.3V236.7M684.5 233.8V235.2M686.5 233.1V234.5M687.5 232.7V234.1M688.5 235.0V236.4M689.5 232.8V234.2M690.5 243.4V244.8M692.5 241.8V243.2M693.5 242.9V244.3M694.5 241.4V242.8M695.5 243.4V244.8M696.5 241.8V243.2M697.5 243.0V244.4M699.5 242.8V244.2M700.5 241.3V242.7M701.5 241.5V242.9M703.5 240.1V241.5M704.5 240.4V241.8M706.5 238.7V240.1M707.5 239.4V240.8M708.5 232.6V234.0M709.5 230.6V232.0M710.5 231.9V233.3M711.5 230.2V231.6M712.5 230.9V232.3M713.5 232.0V233.4M714.5 230.9V232.3M715.5 232.1V233.5M716.5 229.7V231.1M717.5 230.7V232.1M718.5 229.8V231.2M719.5 229.7V231.1M720.5 230.7V232.1M721.5 231.0V232.4M722.5 229.5V230.9M724.5 229.2V230.6M725.5 229.3V230.7M726.5 231.0V232.4M728.5 228.9V230.3M729.5 229.7V231.1M730.5 229.7V231.1M731.5 229.2V230.6M732.5 230.6V232.0M733.5 229.9V231.3M734.5 229.9V231.3M735.5 228.6V230.0M736.5 230.4V231.8M737.5 229.5V230.9M738.5 228.5V229.9M739.5 228.9V230.3M740.5 228.5V229.9M741.5 228.6V230.0M742.5 230.0V231.4M743.5 229.1V230.5M744.5 228.4V229.8M746.5 229.8V231.2M747.5 227.4V228.8M749.5 227.2V228.6M750.5 227.2V228.6M751.5 228.4V229.8M752.5 226.0V227.4M753.5 226.4V227.8M756.5 226.3V227.7M757.5 226.0V227.4M758.5 225.1V226.5M759.5 226.2V227.6M760.5 226.3V227.7M761.5 224.8V226.2M762.5 226.3V227.7M763.5 225.1V226.5M766.5 226.0V227.4M767.5 226.5V227.9M768.5 226.2V227.6M769.5 225.8V227.2M771.5 226.1V227.5M772.5 226.0V227.4M773.5 225.3V226.7M774.5 225.1V226.5M775.5 226.3V227.7M777.5 225.7V227.1M778.5 223.8V225.2M781.5 224.6V226.0M782.5 225.0V226.4M783.5 225.8V227.2M784.5 225.6V227.0M785.5 224.2V225.6M788.5 225.1V226.5M789.5 223.5V224.9M790.5 224.7V226.1M791.5 223.8V225.2M794.5 225.4V226.8M795.5 225.2V226.6M796.5 223.1V224.5M797.5 224.5V225.9M799.5 224.6V226.0M800.5 232.9V234.3M801.5 233.9V235.3M804.5 233.0V234.4M805.5 234.0V235.4M807.5 232.6V234.0M808.5 232.3V233.7M809.5 232.7V234.1M810.5 233.2V234.6M812.5 231.4V232.8M814.5 231.5V232.9M815.5 231.6V233.0M816.5 233.0V234.4M817.5 232.2V233.6M818.5 231.7V233.1M819.5 231.6V233.0M820.5 232.7V234.1M821.5 231.8V233.2M822.5 230.9V232.3M823.5 232.0V233.4M824.5 230.9V232.3M825.5 231.0V232.4M826.5 231.5V232.9M827.5 231.6V233.0M828.5 230.9V232.3M829.5 232.0V233.4M832.5 232.2V233.6M833.5 230.9V232.3M834.5 230.0V231.4M835.5 231.3V232.7M836.5 230.9V232.3M838.5 231.6V233.0M839.5 229.4V230.8M840.5 230.6V232.0M841.5 228.8V230.2M842.5 228.8V230.2M843.5 228.9V230.3M844.5 230.8V232.2M845.5 229.2V230.6M846.5 230.6V232.0M847.5 229.6V231.0M848.5 228.3V229.7M851.5 229.8V231.2M853.5 228.1V229.5M854.5 230.1V231.5M855.5 229.8V231.2M859.5 228.6V230.0M860.5 229.4V230.8M861.5 230.6V232.0M862.5 231.1V232.5M864.5 230.3V231.7M866.5 230.4V231.8M867.5 231.1V232.5M868.5 230.7V232.1M869.5 231.6V233.0M870.5 232.2V233.6M872.5 230.6V232.0M874.5 232.7V234.1M875.5 231.2V232.6M876.5 231.1V232.5M877.5 231.0V232.4M878.5 233.1V234.5M879.5 232.3V233.7M880.5 231.4V232.8M881.5 232.3V233.7M882.5 232.5V233.9M883.5 233.8V235.2M884.5 232.2V233.6M886.5 233.6V235.0M887.5 233.7V235.1M888.5 233.5V234.9M889.5 233.8V235.2M890.5 234.5V235.9" stroke="#ff1c1c" stroke-width="1" fill="none"/>
<rect x="80" y="216" width="1" height="15" fill="#ffc8c8"/>
<rect x="120" y="210" width="1" height="7" fill="#ffc8c8"/>
<rect x="322" y="222" width="1" height="12" fill="#ffc8c8"/>
<rect x="333" y="236" width="1" height="12" fill="#ffc8c8"/>
<rect x="338" y="236" width="1" height="13" fill="#ffc8c8"/>
<rect x="620" y="238" width="1" height="11" fill="#ffc8c8"/>
<rect x="626" y="238" width="1" height="11" fill="#ffc8c8"/>
<rect x="690" y="234" width="1" height="10" fill="#ffc8c8"/>
<rect x="708" y="232" width="1" height="9" fill="#ffc8c8"/>
<rect x="800" y="224" width="1" height="10" fill="#ffc8c8"/>
<path d="M30.5 340.8V346.4M31.5 340.6V344.3M32.5 340.8V344.2M33.5 340.3V344.4M34.5 340.2V344.6M35.5 340.9V344.5M36.5 340.3V344.5M37.5 340.6V349.3M38.5 340.6V347.9M39.5 340.7V344.3M40.5 340.3V344.4M41.5 340.0V347.9M42.5 340.3V344.5M43.5 340.2V347.4M44.5 340.3V344.6M45.5 340.2V344.1M46.5 340.3V344.3M47.5 340.7V345.0M48.5 340.3V344.9M49.5 340.3V344.1M50.5 341.0V344.0M51.5 340.0V344.3M52.5 340.1V344.6M53.5 340.1V344.6M54.5 340.7V344.4M55.5 340.7V344.5M56.5 340.8V344.5M57.5 340.3V344.8M58.5 340.5V344.4M59.5 340.2V344.5M60.5 340.6V344.3M61.5 340.3V344.2M62.5 340.3V344.7M63.5 340.7V344.1M64.5 340.5V344.7M65.5 340.8V348.5M66.5 340.5V344.4M67.5 340.1V344.8M68.5 340.7V345.0M69.5 340.1V344.9M70.5 340.1V344.4M71.5 340.6V344.1M72.5 340.4V346.8M73.5 340.6V344.8M74.5 340.4V347.9M75.5 340.7V344.2M76.5 340.8V344.6M77.5 340.7V344.6M78.5 340.8V344.3M79.5 340.9V345.0M81.5 344V345M89.5 344V345M93.5 344V345M94.5 344V345M98.5 344V345M104.5 344V345M111.5 344V345M117.5 344V345M120.5 344V345M123.5 344V345M124.5 344V345M126.5 344V345M131.5 344V345M136.5 344V345M137.5 344V345M140.5 344V345M145.5 344V345M148.5 344V345M149.5 344V345M156.5 344V345M159.5 344V345M164.5 344V345M166.5 344V345M171.5 344V345M174.5 344V345M186.5 344V345M191.5 344V345M193.5 344V345M195.5 344V345M201.5 344V345M203.5 344V345M205.5 344V345M209.5 344V345M212.5 344V345M213.5 344V345M214.5 344V345M218.5 344V345M219.5 344V345M220.5 344V345M222.5 344V345M225.5 344V347M226.5 344V345M227.5 344V345M230.5 340V341M233.5 344V346M234.5 344V345M235.5 344V345M236.5 344V346M237.5 344V345M238.5 340V341M239.5 344V345M240.5 344V345M242.5 344V345M243.5 344V345M245.5 344V345M246.5 344V345M249.5 344V346M251.5 340V341M252.5 340V341M253.5 344V345M253.5 340V341M254.5 344V345M255.5 344V345M256.5 344V345M256.5 340V341M257.5 344V345M258.5 340V341M260.5 344V345M261.5 344V345M262.5 340V341M263.5 344V345M267.5 344V345M269.5 340V341M270.5 344V346M271.5 340V341M272.5 344V345M273.5 344V347M274.5 344V345M275.5 344V345M278.5 344V345M281.5 344V345M284.5 344V346M285.5 344V345M286.5 344V346M289.5 344V346M290.5 344V347M292.5 344V345M295.5 344V345M299.5 344V345M301.5 344V345M302.5 344V345M304.5 344V345M307.5 344V346M307.5 340V341M308.5 344V345M310.5 344V345M313.5 344V345M316.5 344V346M316.5 340V341M317.5 344V345M319.5 344V345M320.5 340V341M327.5 344V345M330.5 340V341M331.5 340V341M332.5 344V345M333.5 344V346M334.5 344V345M336.5 344V345M338.5 344V346M340.5 340V341M341.5 344V346M342.5 344V345M345.5 344V345M355.5 344V345M356.5 344V346M357.5 344V345M357.5 340V341M358.5 344V346M359.5 344V346M362.5 344V346M363.5 344V345M364.5 344V345M366.5 344V346M367.5 344V345M369.5 344V345M371.5 344V345M375.5 340V341M377.5 344V345M378.5 344V345M380.5 339.7V345.3M381.5 339.8V344.7M382.5 338.6V345.4M383.5 339.5V345.8M384.5 339.9V346.7M385.5 340.1V346.4M386.5 339.8V347.3M387.5 339.2V346.6M388.5 337.4V345.2M389.5 340.3V345.6M390.5 339.8V345.9M391.5 340.2V345.7M392.5 341.2V346.1M393.5 339.7V347.0M394.5 341.0V347.0M395.5 336.0V346.4M396.5 340.9V347.3M397.5 340.3V350.9M398.5 341.4V347.2M399.5 340.6V346.4M400.5 341.4V346.7M401.5 341.8V347.7M402.5 341.8V347.3M403.5 340.9V347.8M404.5 342.5V347.2M405.5 338.9V348.4M406.5 342.6V347.5M407.5 342.0V347.5M408.5 341.2V348.6M409.5 341.4V348.4M410.5 341.9V347.8M411.5 342.1V347.8M412.5 343.2V351.1M413.5 343.3V349.3M414.5 343.4V349.3M415.5 342.0V348.6M416.5 342.2V348.3M417.5 344.0V350.1M418.5 342.9V349.1M419.5 342.8V349.4M420.5 343.5V348.7M421.5 342.7V350.5M422.5 344.6V350.4M423.5 344.6V350.5M424.5 343.2V349.1M425.5 342.2V349.5M426.5 344.5V350.7M427.5 343.8V349.8M428.5 343.1V349.7M429.5 343.7V350.6M430.5 344.5V348.9M431.5 344.9V350.8M432.5 343.5V349.6M433.5 343.5V349.3M434.5 343.1V349.3M435.5 343.8V350.6M436.5 343.8V350.4M437.5 344.9V350.0M438.5 344.4V350.0M439.5 343.8V350.0M440.5 345.2V351.0M441.5 345.2V351.1M442.5 343.8V350.3M443.5 343.7V349.6M444.5 345.1V349.5M445.5 344.1V350.4M446.5 344.3V350.3M447.5 345.1V350.2M448.5 345.2V351.0M449.5 345.0V350.8M450.5 345.0V349.7M451.5 344.4V351.5M452.5 344.2V350.0M453.5 345.4V350.1M454.5 344.3V350.6M455.5 345.0V351.7M456.5 345.1V350.4M457.5 345.0V351.0M458.5 344.9V349.9M459.5 345.6V351.6M460.5 345.4V350.7M461.5 344.7V351.9M462.5 344.8V350.8M463.5 345.8V351.9M464.5 345.2V351.7M465.5 344.0V351.2M466.5 343.9V350.0M467.5 344.0V350.4M468.5 345.5V351.6M469.5 344.9V350.9M470.5 344.2V349.9M471.5 345.6V350.4M472.5 344.2V350.6M473.5 345.4V350.6M474.5 345.0V351.4M475.5 344.0V351.6M476.5 345.5V350.2M477.5 344.6V349.9M478.5 345.1V350.0M479.5 345.4V351.3M480.5 344.6V351.1M481.5 343.9V351.2M482.5 344.0V350.2M483.5 345.5V351.2M484.5 344.5V349.8M485.5 344.3V351.2M486.5 345.1V351.1M487.5 344.5V351.3M488.5 343.6V351.1M489.5 343.9V350.2M490.5 340.2V350.5M491.5 343.8V349.8M492.5 344.7V351.4M493.5 344.3V350.1M494.5 343.7V350.5M495.5 343.5V351.3M496.5 344.7V349.6M497.5 341.6V349.8M498.5 344.8V350.7M499.5 344.0V350.8M500.5 344.4V350.6M501.5 343.6V350.9M502.5 343.3V351.9M503.5 343.6V350.0M504.5 343.3V350.4M505.5 343.3V351.1M506.5 340.3V351.1M507.5 344.5V350.4M508.5 344.7V353.5M509.5 344.0V349.6M510.5 345.0V350.6M511.5 343.5V350.1M512.5 344.1V349.7M513.5 343.4V349.9M514.5 345.0V350.2M515.5 344.2V349.4M516.5 344.9V350.5M517.5 340.1V350.8M518.5 345.0V349.9M519.5 344.6V349.2M520.5 343.0V349.6M521.5 343.6V349.6M522.5 344.0V350.8M523.5 344.6V350.1M524.5 343.6V349.7M525.5 342.8V349.9M526.5 344.3V350.2M527.5 343.9V350.1M528.5 344.6V349.4M529.5 341.1V348.7M530.5 343.4V349.1M531.5 343.9V349.9M532.5 344.1V349.3M533.5 343.4V350.2M534.5 343.7V349.4M535.5 339.6V349.9M536.5 343.9V349.0M537.5 343.8V348.6M538.5 344.4V349.3M539.5 341.6V350.0M540.5 342.7V349.4M541.5 344.4V350.3M542.5 343.2V350.3M543.5 344.1V349.8M544.5 344.1V349.1M545.5 343.2V349.8M546.5 342.4V348.8M547.5 343.0V348.3M548.5 342.7V349.6M549.5 342.9V348.6M550.5 342.4V349.3M551.5 343.9V348.7M552.5 342.9V349.3M553.5 342.0V349.6M554.5 341.9V348.0M555.5 343.9V348.5M556.5 343.3V347.9M557.5 343.4V349.7M558.5 342.1V348.1M559.5 342.6V349.2M560.5 343.8V349.5M561.5 343.6V348.6M562.5 342.3V348.8M563.5 343.6V348.9M564.5 343.6V349.5M565.5 342.8V348.7M566.5 344.2V349.1M567.5 343.3V350.9M568.5 343.0V349.0M569.5 343.8V349.5M570.5 343.2V349.8M571.5 342.8V350.3M572.5 343.3V349.3M573.5 343.5V350.9M574.5 344.0V350.9M575.5 344.1V349.7M576.5 344.3V349.9M577.5 345.3V350.4M578.5 342.5V350.4M579.5 344.7V350.2M580.5 344.3V350.8M581.5 344.7V351.0M582.5 345.4V351.8M583.5 345.8V350.7M584.5 344.8V350.6M585.5 346.4V352.4M586.5 345.8V351.3M587.5 345.3V352.1M588.5 347.0V351.7M589.5 345.7V353.3M590.5 347.3V352.1M591.5 346.9V352.1M592.5 346.1V353.8M593.5 347.7V353.7M594.5 346.6V353.3M595.5 345.4V353.2M596.5 348.0V354.7M597.5 348.8V353.2M598.5 349.1V354.2M599.5 348.7V355.1M600.5 349.0V354.8M601.5 349.4V355.2M602.5 348.5V353.9M603.5 348.0V358.7M604.5 349.6V355.4M605.5 348.7V355.1M606.5 348.7V354.1M607.5 349.3V356.0M608.5 349.4V355.0M609.5 349.0V354.9M610.5 349.7V355.5M611.5 349.9V355.4M612.5 349.7V354.9M613.5 346.4V354.7M614.5 349.7V356.0M615.5 349.5V354.9M616.5 349.6V356.6M617.5 350.2V355.7M618.5 350.5V356.1M619.5 349.4V358.9M620.5 350.8V355.8M621.5 348.7V355.6M622.5 348.5V355.5M623.5 349.3V354.2M624.5 348.5V355.6M625.5 349.2V354.2M626.5 348.5V355.6M627.5 348.8V355.8M628.5 348.1V355.2M629.5 348.8V355.2M630.5 350.1V355.4M631.5 350.0V356.1M632.5 349.2V354.8M633.5 349.9V355.3M634.5 349.9V356.1M635.5 351.2V360.9M636.5 349.7V356.0M637.5 351.0V357.3M638.5 351.2V356.6M639.5 350.5V356.9M640.5 350.6V357.1M641.5 351.3V357.9M642.5 351.8V356.7M643.5 350.5V356.7M644.5 350.3V356.1M645.5 350.8V357.1M646.5 350.4V357.3M647.5 351.3V356.9M648.5 350.9V357.5M649.5 350.3V357.6M650.5 350.4V357.3M651.5 350.3V357.6M652.5 351.3V356.2M653.5 350.9V357.3M654.5 351.4V357.1M655.5 350.4V361.6M656.5 351.9V357.3M657.5 351.1V356.8M658.5 351.6V356.3M659.5 350.6V356.7M660.5 350.9V356.6M661.5 351.1V357.1M662.5 351.8V356.3M663.5 350.2V356.5M664.5 350.8V356.5M665.5 350.7V356.9M666.5 351.3V357.3M667.5 351.3V356.7M668.5 350.6V357.0M669.5 350.1V359.2M670.5 350.8V357.2M671.5 351.5V356.2M672.5 351.4V357.2M673.5 350.9V356.7M674.5 351.6V356.4M675.5 351.9V356.2M676.5 350.1V356.8M677.5 350.2V357.2M678.5 350.3V356.8M679.5 349.5V356.3M680.5 350.8V358.0M681.5 351.0V362.1M682.5 351.8V357.2M683.5 350.8V357.4M684.5 350.2V357.7M685.5 350.1V357.9M686.5 350.4V356.9M687.5 350.3V358.9M688.5 351.8V357.8M689.5 351.2V357.2M690.5 351.1V356.8M691.5 350.5V357.1M692.5 350.2V357.7M693.5 351.0V357.7M694.5 351.1V356.6M695.5 351.0V357.4M696.5 350.1V356.6M697.5 351.6V356.3M698.5 351.0V356.3M699.5 350.8V356.2M700.5 351.4V357.5M701.5 351.7V357.5M702.5 351.1V357.8M703.5 350.9V356.9M704.5 350.5V356.5M705.5 351.4V362.9M706.5 351.9V359.2M707.5 351.5V357.7M708.5 351.9V358.1M709.5 351.6V356.7M710.5 351.2V358.0M711.5 351.9V357.7M712.5 351.8V361.4M713.5 351.4V357.3M714.5 351.2V356.9M715.5 351.7V358.2M716.5 350.6V357.7M717.5 351.9V358.3M718.5 350.8V357.1M719.5 352.4V358.2M720.5 350.8V358.2M721.5 351.3V357.4M722.5 351.0V358.3M723.5 351.3V356.7M724.5 349.2V357.2M725.5 352.2V358.6M726.5 349.9V358.1M727.5 352.3V358.7M728.5 351.8V357.0M729.5 352.2V357.1M730.5 352.4V359.0M731.5 352.7V358.4M732.5 351.7V357.7M733.5 352.3V357.8M734.5 351.6V357.4M735.5 352.8V358.2M736.5 352.1V357.6M737.5 351.9V358.9M738.5 351.4V358.9M739.5 351.4V359.1M740.5 352.2V357.2M741.5 353.0V357.9M742.5 351.5V357.3M743.5 351.6V362.2M744.5 351.8V357.4M745.5 352.0V357.8M746.5 352.1V358.7M747.5 351.8V358.4M748.5 350.3V358.4M749.5 352.0V357.8M750.5 352.4V358.8M751.5 353.2V358.0M752.5 352.8V360.2M753.5 356.9V362.5M754.5 357.6V362.4M755.5 358.3V363.3M756.5 358.5V361.8M757.5 358.9V363.1M758.5 359.2V363.5M759.5 357.8V362.1M760.5 358.6V362.6M761.5 357.3V363.3M762.5 359.1V362.9M763.5 357.6V362.4M764.5 357.6V362.0M765.5 359.1V362.0M766.5 358.6V362.2M767.5 359.1V362.7M768.5 358.8V361.9M769.5 357.4V362.5M770.5 357.9V362.8M771.5 358.4V362.5M772.5 357.4V362.7M773.5 357.6V362.6M774.5 358.5V362.0M775.5 357.9V363.3M776.5 358.0V363.0M777.5 357.9V362.3M778.5 359.0V366.9M779.5 357.9V363.5M780.5 357.4V363.7M781.5 358.4V363.2M782.5 356.9V365.8M783.5 359.0V362.4M784.5 357.8V362.6M785.5 359.1V362.2M786.5 357.6V362.0M787.5 357.8V363.0M788.5 358.1V362.0M789.5 357.7V363.4M790.5 358.0V361.8M791.5 359.2V363.6M792.5 358.0V363.5M793.5 359.1V363.4M794.5 358.2V363.0M795.5 358.7V363.4M796.5 358.3V362.0M797.5 358.5V363.6M798.5 357.8V362.7M799.5 359.1V363.1M800.5 357.2V362.5M801.5 358.8V363.4M802.5 358.0V363.2M803.5 358.8V363.8M804.5 358.0V362.3M805.5 359.2V363.2M806.5 358.5V362.8M807.5 357.6V363.4M808.5 359.0V365.2M809.5 357.3V362.6M810.5 358.9V365.3M811.5 358.9V362.3M812.5 359.2V362.3M813.5 357.4V363.7M814.5 359.0V362.3M815.5 359.1V363.7M816.5 357.2V362.2M817.5 358.2V363.3M818.5 359.1V362.8M819.5 357.9V363.7M820.5 357.6V362.5M821.5 357.3V363.1M822.5 358.8V362.0M823.5 358.7V362.3M824.5 358.3V362.7M825.5 355.5V363.2M826.5 357.2V363.2M827.5 358.9V363.6M828.5 358.1V362.4M829.5 355.7V365.0M830.5 358.1V366.7M831.5 358.2V362.9M832.5 357.8V363.6M833.5 357.6V363.7M834.5 359.1V362.9M835.5 357.7V362.6M836.5 358.2V363.5M837.5 358.9V363.8M838.5 358.4V362.9M839.5 359.1V362.3M840.5 358.7V362.9M841.5 359.0V363.1M842.5 358.5V363.5M843.5 358.3V362.7M844.5 357.9V361.9M845.5 358.0V362.5M846.5 358.9V362.7M847.5 359.1V361.9M848.5 358.5V363.3M849.5 358.9V363.0M850.5 357.4V363.2M851.5 354.5V363.3M852.5 357.9V362.4M853.5 358.4V362.1M854.5 357.6V363.6M855.5 357.4V363.6M856.5 357.1V363.5M857.5 358.2V361.6M858.5 358.9V362.2M859.5 358.7V363.1M860.5 357.9V362.4M861.5 357.3V362.2M862.5 356.9V362.9M863.5 358.7V362.4M864.5 357.6V363.3M865.5 358.4V363.0M866.5 357.6V362.0M867.5 357.4V363.2M868.5 357.4V362.3M869.5 357.0V362.1M870.5 356.7V362.2M871.5 357.7V363.1M872.5 357.7V361.9M873.5 358.3V363.0M874.5 356.9V362.7M875.5 356.6V362.2M876.5 357.6V362.1M877.5 356.8V361.6M878.5 356.6V362.0M879.5 358.2V362.8M880.5 356.4V365.4M881.5 357.8V362.4M882.5 357.5V361.6M883.5 356.6V361.2M884.5 356.4V364.4M885.5 356.4V360.7M886.5 355.9V362.1M887.5 356.3V361.2M888.5 356.1V362.0M889.5 356.7V361.6M890.5 355.8V360.2M891.5 356.8V360.3" stroke="#8a8aff" stroke-width="1" fill="none"/>
<path d="M80.5 342V344M80.5 341V342M81.5 342V344M81.5 341V342M82.5 342V344M83.5 342V344M83.5 341V342M84.5 342V344M84.5 341V342M85.5 342V344M85.5 341V342M86.5 342V344M86.5 341V342M87.5 342V344M88.5 342V344M88.5 341V342M89.5 342V344M90.5 342V344M90.5 341V342M91.5 342V344M91.5 341V342M92.5 342V344M92.5 341V342M93.5 342V344M93.5 341V342M94.5 342V344M94.5 341V342M95.5 342V344M95.5 341V342M96.5 342V344M96.5 341V342M97.5 342V344M98.5 342V344M99.5 342V344M99.5 341V342M100.5 342V344M100.5 341V342M101.5 342V344M101.5 341V342M102.5 342V344M102.5 341V342M103.5 342V344M103.5 341V342M104.5 342V344M104.5 341V342M105.5 342V344M106.5 342V344M106.5 341V342M107.5 342V344M107.5 341V342M108.5 342V344M108.5 341V342M109.5 342V344M109.5 341V342M110.5 342V344M111.5 342V344M111.5 341V342M112.5 342V344M113.5 342V344M113.5 341V342M114.5 342V344M114.5 341V342M115.5 342V344M115.5 341V342M116.5 342V344M116.5 341V342M117.5 342V344M117.5 341V342M118.5 342V344M119.5 342V344M120.5 342V344M120.5 341V342M121.5 342V344M121.5 341V342M122.5 342V344M123.5 342V344M123.5 341V342M124.5 342V344M124.5 341V342M125.5 342V344M125.5 341V342M126.5 342V344M126.5 341V342M127.5 342V344M127.5 341V342M128.5 342V344M128.5 341V342M129.5 342V344M130.5 342V344M130.5 341V342M131.5 342V344M131.5 341V342M132.5 342V344M132.5 341V342M133.5 342V344M133.5 341V342M134.5 342V344M134.5 341V342M135.5 342V344M136.5 342V344M137.5 342V344M137.5 341V342M138.5 342V344M139.5 342V344M140.5 342V344M141.5 342V344M142.5 342V344M142.5 341V342M143.5 342V344M143.5 341V342M144.5 342V344M145.5 342V344M146.5 342V344M147.5 342V344M147.5 341V342M148.5 342V344M148.5 341V342M149.5 342V344M149.5 341V342M150.5 342V344M150.5 341V342M151.5 342V344M151.5 341V342M152.5 342V344M153.5 342V344M154.5 342V344M155.5 342V344M156.5 342V344M157.5 342V344M157.5 341V342M158.5 342V344M158.5 341V342M159.5 342V344M160.5 342V344M161.5 342V344M162.5 342V344M162.5 341V342M163.5 342V344M163.5 341V342M164.5 342V344M165.5 342V344M166.5 342V344M166.5 341V342M167.5 342V344M168.5 342V344M168.5 341V342M169.5 342V344M169.5 341V342M170.5 342V344M171.5 342V344M171.5 341V342M172.5 342V344M172.5 341V342M173.5 342V344M174.5 342V344M174.5 341V342M175.5 342V344M176.5 342V344M176.5 341V342M177.5 342V344M177.5 341V342M178.5 342V344M178.5 341V342M179.5 342V344M179.5 341V342M180.5 342V344M180.5 341V342M181.5 342V344M181.5 341V342M182.5 342V344M182.5 341V342M183.5 342V344M183.5 341V342M184.5 342V344M184.5 341V342M185.5 342V344M185.5 341V342M186.5 342V344M186.5 341V342M187.5 342V344M188.5 342V344M189.5 342V344M190.5 342V344M190.5 341V342M191.5 342V344M192.5 342V344M192.5 341V342M193.5 342V344M193.5 341V342M194.5 342V344M194.5 341V342M195.5 342V344M195.5 341V342M196.5 342V344M196.5 341V342M197.5 342V344M197.5 341V342M198.5 342V344M198.5 341V342M199.5 342V344M199.5 341V342M200.5 342V344M200.5 341V342M201.5 342V344M201.5 341V342M202.5 342V344M203.5 342V344M203.5 341V342M204.5 342V344M205.5 342V344M206.5 342V344M206.5 341V342M207.5 342V344M207.5 341V342M208.5 342V344M208.5 341V342M209.5 342V344M210.5 342V344M210.5 341V342M211.5 342V344M211.5 341V342M212.5 342V344M213.5 342V344M213.5 341V342M214.5 342V344M214.5 341V342M215.5 342V344M215.5 341V342M216.5 342V344M216.5 341V342M217.5 342V344M217.5 341V342M218.5 342V344M219.5 342V344M219.5 341V342M220.5 342V344M220.5 341V342M221.5 342V344M222.5 342V344M223.5 342V344M223.5 341V342M224.5 342V344M224.5 341V342M225.5 342V344M225.5 341V342M226.5 342V344M226.5 341V342M227.5 342V344M227.5 341V342M228.5 342V344M228.5 341V342M229.5 342V344M229.5 341V342M230.5 342V344M230.5 341V342M231.5 342V344M231.5 341V342M232.5 342V344M232.5 341V342M233.5 342V344M234.5 342V344M235.5 342V344M236.5 342V344M236.5 341V342M237.5 342V344M238.5 342V344M238.5 341V342M239.5 342V344M240.5 342V344M240.5 341V342M241.5 342V344M241.5 341V342M242.5 342V344M243.5 342V344M244.5 342V344M244.5 341V342M245.5 342V344M245.5 341V342M246.5 342V344M246.5 341V342M247.5 342V344M247.5 341V342M248.5 342V344M249.5 342V344M249.5 341V342M250.5 342V344M250.5 341V342M251.5 342V344M251.5 341V342M252.5 342V344M252.5 341V342M253.5 342V344M253.5 341V342M254.5 342V344M254.5 341V342M255.5 342V344M255.5 341V342M256.5 342V344M256.5 341V342M257.5 342V344M258.5 342V344M258.5 341V342M259.5 342V344M259.5 341V342M260.5 342V344M261.5 342V344M261.5 341V342M262.5 342V344M262.5 341V342M263.5 342V344M264.5 342V344M264.5 341V342M265.5 342V344M265.5 341V342M266.5 342V344M267.5 342V344M268.5 342V344M268.5 341V342M269.5 342V344M270.5 342V344M271.5 342V344M271.5 341V342M272.5 342V344M273.5 342V344M274.5 342V344M274.5 341V342M275.5 342V344M276.5 342V344M276.5 341V342M277.5 342V344M278.5 342V344M279.5 342V344M280.5 342V344M280.5 341V342M281.5 342V344M281.5 341V342M282.5 342V344M283.5 342V344M283.5 341V342M284.5 342V344M284.5 341V342M285.5 342V344M286.5 342V344M286.5 341V342M287.5 342V344M287.5 341V342M288.5 342V344M288.5 341V342M289.5 342V344M289.5 341V342M290.5 342V344M290.5 341V342M291.5 342V344M292.5 342V344M293.5 342V344M294.5 342V344M294.5 341V342M295.5 342V344M295.5 341V342M296.5 342V344M297.5 342V344M298.5 342V344M298.5 341V342M299.5 342V344M299.5 341V342M300.5 342V344M300.5 341V342M301.5 342V344M302.5 342V344M302.5 341V342M303.5 342V344M303.5 341V342M304.5 342V344M304.5 341V342M305.5 342V344M306.5 342V344M307.5 342V344M308.5 342V344M308.5 341V342M309.5 342V344M310.5 342V344M310.5 341V342M311.5 342V344M311.5 341V342M312.5 342V344M312.5 341V342M313.5 342V344M313.5 341V342M314.5 342V344M315.5 342V344M316.5 342V344M316.5 341V342M317.5 342V344M317.5 341V342M318.5 342V344M318.5 341V342M319.5 342V344M319.5 341V342M320.5 342V344M321.5 342V344M322.5 342V344M323.5 342V344M323.5 341V342M324.5 342V344M324.5 341V342M325.5 342V344M325.5 341V342M326.5 342V344M326.5 341V342M327.5 342V344M328.5 342V344M329.5 342V344M329.5 341V342M330.5 342V344M331.5 342V344M331.5 341V342M332.5 342V344M333.5 342V344M333.5 341V342M334.5 342V344M334.5 341V342M335.5 342V344M336.5 342V344M336.5 341V342M337.5 342V344M337.5 341V342M338.5 342V344M339.5 342V344M339.5 341V342M340.5 342V344M340.5 341V342M341.5 342V344M341.5 341V342M342.5 342V344M342.5 341V342M343.5 342V344M343.5 341V342M344.5 342V344M344.5 341V342M345.5 342V344M345.5 341V342M346.5 342V344M346.5 341V342M347.5 342V344M347.5 341V342M348.5 342V344M348.5 341V342M349.5 342V344M349.5 341V342M350.5 342V344M351.5 342V344M351.5 341V342M352.5 342V344M353.5 342V344M354.5 342V344M355.5 342V344M355.5 341V342M356.5 342V344M357.5 342V344M357.5 341V342M358.5 342V344M359.5 342V344M359.5 341V342M360.5 342V344M361.5 342V344M361.5 341V342M362.5 342V344M362.5 341V342M363.5 342V344M363.5 341V342M364.5 342V344M364.5 341V342M365.5 342V344M365.5 341V342M366.5 342V344M366.5 341V342M367.5 342V344M367.5 341V342M368.5 342V344M368.5 341V342M369.5 342V344M369.5 341V342M370.5 342V344M371.5 342V344M371.5 341V342M372.5 342V344M373.5 342V344M373.5 341V342M374.5 342V344M375.5 342V344M375.5 341V342M376.5 342V344M377.5 342V344M378.5 342V344M378.5 341V342M379.5 342V344M379.5 341V342" stroke="#0000ff" stroke-width="1" fill="none"/>
<path d="M30.5 342.1V343.5M32.5 342.6V344.0M33.5 341.0V342.4M35.5 342.3V343.7M37.5 341.2V342.6M39.5 341.6V343.0M40.5 341.9V343.3M41.5 341.2V342.6M42.5 342.7V344.1M43.5 342.2V343.6M44.5 342.2V343.6M45.5 342.0V343.4M46.5 342.2V343.6M47.5 341.0V342.4M48.5 342.5V343.9M53.5 341.8V343.2M54.5 341.2V342.6M55.5 342.1V343.5M57.5 342.7V344.1M58.5 342.2V343.6M59.5 341.7V343.1M63.5 342.7V344.1M66.5 342.2V343.6M67.5 341.6V343.0M68.5 341.4V342.8M71.5 341.6V343.0M72.5 340.8V342.2M76.5 340.9V342.3M77.5 341.0V342.4M78.5 342.6V344.0M380.5 341.5V343.9M381.5 341.2V343.6M382.5 342.3V344.7M383.5 341.5V343.9M384.5 340.9V343.3M385.5 341.5V343.9M386.5 341.5V343.9M387.5 342.1V344.5M388.5 341.4V343.8M389.5 341.9V344.3M390.5 341.8V344.2M391.5 342.4V344.8M392.5 342.1V344.5M393.5 342.7V345.1M394.5 343.0V345.4M395.5 342.5V344.9M396.5 342.6V345.0M397.5 341.6V344.0M398.5 343.1V345.5M399.5 342.2V344.6M400.5 343.0V345.4M401.5 342.2V344.6M402.5 342.7V345.1M403.5 344.2V346.6M404.5 344.2V346.6M405.5 342.9V345.3M406.5 343.8V346.2M407.5 343.4V345.8M408.5 343.1V345.5M409.5 343.1V345.5M410.5 344.1V346.5M412.5 344.4V346.8M413.5 343.7V346.1M414.5 344.4V346.8M415.5 344.8V347.2M416.5 345.1V347.5M417.5 344.6V347.0M418.5 344.9V347.3M419.5 344.3V346.7M420.5 346.3V348.7M421.5 345.6V348.0M422.5 344.9V347.3M423.5 346.4V348.8M424.5 345.6V348.0M425.5 346.5V348.9M426.5 345.9V348.3M427.5 344.8V347.2M428.5 345.9V348.3M430.5 345.8V347.4M431.5 346.8V348.4M432.5 346.5V348.1M434.5 347.0V348.6M436.5 346.5V348.1M437.5 345.9V347.5M438.5 344.9V346.5M439.5 345.6V347.2M440.5 345.9V347.5M441.5 347.1V348.7M442.5 347.6V349.2M443.5 346.5V348.1M445.5 345.5V347.1M446.5 345.6V347.2M447.5 347.7V349.3M449.5 347.2V348.8M450.5 346.3V347.9M451.5 346.2V347.8M453.5 346.6V348.2M454.5 348.2V349.8M455.5 347.6V349.2M456.5 347.7V349.3M457.5 347.7V349.3M458.5 346.4V348.0M459.5 346.6V348.2M460.5 348.3V349.9M461.5 348.1V349.7M462.5 346.7V348.3M463.5 347.6V349.2M464.5 348.0V349.6M465.5 345.9V347.5M466.5 346.9V348.5M467.5 347.1V348.7M468.5 347.1V348.7M469.5 345.7V347.3M470.5 347.9V349.5M471.5 347.6V349.2M472.5 345.9V347.5M473.5 347.1V348.7M475.5 347.2V348.8M476.5 346.6V348.2M477.5 348.1V349.7M478.5 346.4V348.0M479.5 346.3V347.9M480.5 346.6V348.2M481.5 348.0V349.6M483.5 346.5V348.1M484.5 347.3V348.9M485.5 345.3V346.9M486.5 345.7V347.3M487.5 346.1V347.7M488.5 346.7V348.3M489.5 346.9V348.5M490.5 346.7V348.3M492.5 345.4V347.0M493.5 347.9V349.5M494.5 346.2V347.8M495.5 345.5V347.1M497.5 346.7V348.3M498.5 347.3V348.9M499.5 345.2V346.8M501.5 347.2V348.8M502.5 345.3V346.9M503.5 345.5V347.1M504.5 347.2V348.8M506.5 346.6V348.2M508.5 346.0V347.6M509.5 347.6V349.2M510.5 347.9V349.5M512.5 346.8V348.4M513.5 347.4V349.0M515.5 344.8V346.4M517.5 345.8V347.4M519.5 346.0V347.6M520.5 345.9V347.5M521.5 346.5V348.1M522.5 345.7V347.3M523.5 346.7V348.3M524.5 347.3V348.9M525.5 346.8V348.4M527.5 347.4V349.0M528.5 347.2V348.8M529.5 346.0V347.6M531.5 344.4V346.0M532.5 345.2V346.8M533.5 345.9V347.5M535.5 346.1V347.7M536.5 345.2V346.8M540.5 345.1V346.7M543.5 347.0V348.6M544.5 346.1V347.7M545.5 346.0V347.6M546.5 345.1V346.7M547.5 344.0V345.6M548.5 346.3V347.9M549.5 344.3V345.9M550.5 345.3V346.9M552.5 343.7V345.3M553.5 345.7V347.3M554.5 344.3V345.9M555.5 344.7V346.3M556.5 343.6V345.2M558.5 344.5V346.1M559.5 343.7V345.3M560.5 345.9V347.5M562.5 345.7V347.3M563.5 344.2V345.8M565.5 344.4V346.0M566.5 344.7V346.3M567.5 344.4V346.0M568.5 347.1V348.7M571.5 345.2V346.8M572.5 346.7V348.3M573.5 346.7V348.3M574.5 346.1V347.7M575.5 345.3V346.9M576.5 345.3V346.9M577.5 345.9V347.5M578.5 346.2V347.8M579.5 348.0V349.6M580.5 348.2V349.8M581.5 347.4V349.0M583.5 346.5V348.1M584.5 348.5V350.1M585.5 349.0V350.6M586.5 347.0V348.6M587.5 348.1V349.7M588.5 348.7V350.3M590.5 348.7V350.3M591.5 350.0V351.6M592.5 349.0V350.6M593.5 350.8V352.4M594.5 350.5V352.1M595.5 350.6V352.2M596.5 348.6V350.2M597.5 350.9V352.5M598.5 350.2V351.8M599.5 349.3V350.9M602.5 351.3V352.9M603.5 352.1V353.7M604.5 349.6V351.2M605.5 350.3V351.9M606.5 351.3V352.9M607.5 352.3V353.9M608.5 350.4V352.0M609.5 351.4V353.0M610.5 350.9V352.5M611.5 351.6V353.2M613.5 351.2V352.8M614.5 352.3V353.9M615.5 352.3V353.9M616.5 352.0V353.6M617.5 351.6V353.2M619.5 352.2V353.8M620.5 350.9V352.5M622.5 352.4V354.0M623.5 349.8V351.4M624.5 351.1V352.7M625.5 351.3V352.9M627.5 350.1V351.7M628.5 351.8V353.4M629.5 350.6V352.2M630.5 353.0V354.6M631.5 352.9V354.5M632.5 352.4V354.0M633.5 353.2V354.8M634.5 352.4V354.0M635.5 351.4V353.0M636.5 353.3V354.9M639.5 352.7V354.3M640.5 353.7V355.3M641.5 353.2V354.8M643.5 354.2V355.8M644.5 353.0V354.6M645.5 351.7V353.3M646.5 354.4V356.0M647.5 351.9V353.5M649.5 354.2V355.8M650.5 352.7V354.3M651.5 351.9V353.5M652.5 354.3V355.9M654.5 353.2V354.8M656.5 354.0V355.6M657.5 354.6V356.2M658.5 351.8V353.4M659.5 352.7V354.3M660.5 352.6V354.2M661.5 352.0V353.6M662.5 352.7V354.3M663.5 353.7V355.3M664.5 353.5V355.1M667.5 352.1V353.7M670.5 353.3V354.9M672.5 353.6V355.2M673.5 354.2V355.8M674.5 353.6V355.2M675.5 353.1V354.7M676.5 351.8V353.4M677.5 354.5V356.1M678.5 351.8V353.4M679.5 353.7V355.3M680.5 354.6V356.2M681.5 352.9V354.5M682.5 353.8V355.4M683.5 352.9V354.5M684.5 354.4V356.0M685.5 354.2V355.8M686.5 353.3V354.9M688.5 353.7V355.3M689.5 353.3V354.9M690.5 354.5V356.1M691.5 353.3V354.9M693.5 353.9V355.5M694.5 352.4V354.0M695.5 351.7V353.3M696.5 351.9V353.5M697.5 352.5V354.1M698.5 352.4V354.0M699.5 353.3V354.9M700.5 352.3V353.9M701.5 352.6V354.2M702.5 352.6V354.2M703.5 352.3V353.9M705.5 354.1V355.7M706.5 353.3V354.9M708.5 352.5V354.1M709.5 354.3V355.9M710.5 353.9V355.5M711.5 352.5V354.1M712.5 353.0V354.6M713.5 352.9V354.5M715.5 352.2V353.8M716.5 354.2V355.8M719.5 353.7V355.3M720.5 354.5V356.1M721.5 353.1V354.7M722.5 354.1V355.7M723.5 353.8V355.4M724.5 355.0V356.6M726.5 354.9V356.5M727.5 353.4V355.0M728.5 354.6V356.2M729.5 353.0V354.6M730.5 355.2V356.8M731.5 355.6V357.2M734.5 355.2V356.8M735.5 352.9V354.5M736.5 354.4V356.0M737.5 353.1V354.7M739.5 353.6V355.2M740.5 353.3V354.9M741.5 355.3V356.9M742.5 353.8V355.4M744.5 355.0V356.6M747.5 354.7V356.3M749.5 354.5V356.1M750.5 355.2V356.8M751.5 354.1V355.7M754.5 359.3V360.9M755.5 358.7V360.3M756.5 359.6V361.2M757.5 359.2V360.8M758.5 359.0V360.6M759.5 358.4V360.0M760.5 358.4V360.0M761.5 358.9V360.5M762.5 361.0V362.6M763.5 359.3V360.9M764.5 359.2V360.8M765.5 358.8V360.4M766.5 360.4V362.0M767.5 360.3V361.9M768.5 360.7V362.3M770.5 359.8V361.4M771.5 360.4V362.0M772.5 360.4V362.0M773.5 360.2V361.8M775.5 361.2V362.8M776.5 360.4V362.0M777.5 360.9V362.5M778.5 359.5V361.1M779.5 358.6V360.2M780.5 358.9V360.5M783.5 358.5V360.1M784.5 361.2V362.8M787.5 359.3V360.9M788.5 359.7V361.3M789.5 358.8V360.4M790.5 360.4V362.0M793.5 358.4V360.0M794.5 361.1V362.7M795.5 359.5V361.1M796.5 360.9V362.5M798.5 360.7V362.3M799.5 361.1V362.7M800.5 359.9V361.5M802.5 358.4V360.0M803.5 358.4V360.0M805.5 358.2V359.8M806.5 360.7V362.3M809.5 359.8V361.4M812.5 360.2V361.8M813.5 358.9V360.5M814.5 359.1V360.7M816.5 360.0V361.6M817.5 361.0V362.6M818.5 360.7V362.3M820.5 361.0V362.6M821.5 360.0V361.6M822.5 359.9V361.5M823.5 360.7V362.3M824.5 360.9V362.5M825.5 359.2V360.8M827.5 359.8V361.4M828.5 360.3V361.9M829.5 358.9V360.5M830.5 360.2V361.8M832.5 361.0V362.6M833.5 360.5V362.1M834.5 360.0V361.6M835.5 359.8V361.4M836.5 360.2V361.8M837.5 358.3V359.9M838.5 359.6V361.2M839.5 359.7V361.3M840.5 360.1V361.7M842.5 360.7V362.3M843.5 360.3V361.9M844.5 359.1V360.7M845.5 358.9V360.5M847.5 359.5V361.1M848.5 360.1V361.7M849.5 358.7V360.3M850.5 358.3V359.9M853.5 359.0V360.6M854.5 359.3V360.9M856.5 359.6V361.2M858.5 359.4V361.0M859.5 360.3V361.9M860.5 358.9V360.5M862.5 359.6V361.2M864.5 359.0V360.6M865.5 359.2V360.8M867.5 358.8V360.4M868.5 358.7V360.3M869.5 357.6V359.2M872.5 360.0V361.6M873.5 358.3V359.9M874.5 358.1V359.7M875.5 357.4V359.0M876.5 358.1V359.7M877.5 357.4V359.0M878.5 360.0V361.6M880.5 359.6V361.2M881.5 357.4V359.0M882.5 358.1V359.7M883.5 358.6V360.2M885.5 357.8V359.4M886.5 358.2V359.8M887.5 357.8V359.4M888.5 357.1V358.7M889.5 358.1V359.7M890.5 358.4V360.0" stroke="#3030ff" stroke-width="1" fill="none"/>
<path d="M82.5 341V342M87.5 341V342M89.5 341V342M97.5 341V342M98.5 341V342M105.5 341V342M110.5 341V342M112.5 341V342M118.5 341V342M119.5 341V342M122.5 341V342M129.5 341V342M135.5 341V342M136.5 341V342M138.5 341V342M139.5 341V342M140.5 341V342M141.5 341V342M144.5 341V342M145.5 341V342M146.5 341V342M152.5 341V342M153.5 341V342M154.5 341V342M155.5 341V342M156.5 341V342M159.5 341V342M160.5 341V342M161.5 341V342M164.5 341V342M165.5 341V342M167.5 341V342M170.5 341V342M173.5 341V342M175.5 341V342M187.5 341V342M188.5 341V342M189.5 341V342M191.5 341V342M202.5 341V342M204.5 341V342M205.5 341V342M209.5 341V342M212.5 341V342M218.5 341V342M221.5 341V342M222.5 341V342M233.5 341V342M234.5 341V342M235.5 341V342M237.5 341V342M239.5 341V342M242.5 341V342M243.5 341V342M248.5 341V342M257.5 341V342M260.5 341V342M263.5 341V342M266.5 341V342M267.5 341V342M269.5 341V342M270.5 341V342M272.5 341V342M273.5 341V342M275.5 341V342M277.5 341V342M278.5 341V342M279.5 341V342M282.5 341V342M285.5 341V342M291.5 341V342M292.5 341V342M293.5 341V342M296.5 341V342M297.5 341V342M301.5 341V342M305.5 341V342M306.5 341V342M307.5 341V342M309.5 341V342M314.5 341V342M315.5 341V342M320.5 341V342M321.5 341V342M322.5 341V342M327.5 341V342M328.5 341V342M330.5 341V342M332.5 341V342M335.5 341V342M338.5 341V342M350.5 341V342M352.5 341V342M353.5 341V342M354.5 341V342M356.5 341V342M358.5 341V342M360.5 341V342M370.5 341V342M372.5 341V342M374.5 341V342M376.5 341V342M377.5 341V342" stroke="#6060ff" stroke-width="1" fill="none"/>
<rect x="30" y="104" width="862" height="1" fill="#000"/>
<rect x="30" y="235" width="862" height="1" fill="#000"/>
<rect x="30" y="365" width="862" height="1" fill="#000"/>
<rect x="80" y="381" width="812" height="1" fill="#000"/>
<rect x="80" y="365" width="1" height="173" fill="#000"/>
<rect x="342" y="365" width="1" height="173" fill="#000"/>
<rect x="612" y="365" width="1" height="173" fill="#000"/>
<rect x="892" y="365" width="0" height="0" fill="#000"/>
<rect x="109" y="382" width="1" height="156" fill="#a0a0a0"/>
<rect x="127" y="382" width="1" height="156" fill="#a0a0a0"/>
<rect x="145" y="382" width="1" height="156" fill="#a0a0a0"/>
<rect x="163" y="382" width="1" height="156" fill="#a0a0a0"/>
<rect x="181" y="382" width="1" height="156" fill="#a0a0a0"/>
<rect x="199" y="382" width="1" height="156" fill="#a0a0a0"/>
<rect x="218" y="382" width="1" height="156" fill="#a0a0a0"/>
<rect x="236" y="382" width="1" height="156" fill="#a0a0a0"/>
<rect x="254" y="382" width="1" height="156" fill="#a0a0a0"/>
<rect x="272" y="382" width="1" height="156" fill="#a0a0a0"/>
<rect x="290" y="382" width="1" height="156" fill="#a0a0a0"/>
<rect x="308" y="382" width="1" height="156" fill="#a0a0a0"/>
<path d="M99 460V455.1h1V460zM100 460V443.6h1V460zM101 460V433.1h1V460zM102 460V423.5h1V460zM103 460V414.9h1V460zM104 460V407.4h1V460zM105 460V401.0h1V460zM106 460V395.6h1V460zM107 460V391.5h1V460zM108 460V388.6h1V460zM109 460V387.3h1V460zM110 460V387.9h1V460zM111 460V390.2h1V460zM112 460V393.8h1V460zM113 460V398.7h1V460zM114 460V404.7h1V460zM115 460V411.8h1V460zM116 460V419.9h1V460zM117 460V429.1h1V460zM118 460V439.3h1V460zM119 460V450.4h1V460zM119 460V448.8h1V460zM120 460V436.0h1V460zM121 460V424.6h1V460zM122 460V414.6h1V460zM123 460V406.1h1V460zM124 460V399.1h1V460zM125 460V393.8h1V460zM126 460V390.3h1V460zM127 460V388.9h1V460zM128 460V390.3h1V460zM129 460V393.8h1V460zM130 460V399.1h1V460zM131 460V406.1h1V460zM132 460V414.6h1V460zM133 460V424.6h1V460zM134 460V436.0h1V460zM135 460V448.8h1V460zM137 460V452.6h1V460zM138 460V438.9h1V460zM139 460V426.8h1V460zM140 460V416.2h1V460zM141 460V407.3h1V460zM142 460V400.2h1V460zM143 460V394.9h1V460zM144 460V391.6h1V460zM145 460V391.0h1V460zM146 460V393.3h1V460zM147 460V397.8h1V460zM148 460V404.2h1V460zM149 460V412.5h1V460zM150 460V422.3h1V460zM151 460V433.9h1V460zM152 460V446.9h1V460zM155 460V445.0h1V460zM156 460V432.8h1V460zM157 460V422.2h1V460zM158 460V413.2h1V460zM159 460V405.8h1V460zM160 460V400.2h1V460zM161 460V396.4h1V460zM162 460V394.9h1V460zM163 460V396.4h1V460zM164 460V400.2h1V460zM165 460V405.8h1V460zM166 460V413.2h1V460zM167 460V422.2h1V460zM168 460V432.8h1V460zM169 460V445.0h1V460zM172 460V451.8h1V460zM173 460V441.0h1V460zM174 460V431.3h1V460zM175 460V422.8h1V460zM176 460V415.4h1V460zM177 460V409.3h1V460zM178 460V404.4h1V460zM179 460V401.0h1V460zM180 460V399.1h1V460zM181 460V399.4h1V460zM182 460V401.6h1V460zM183 460V405.3h1V460zM184 460V410.4h1V460zM185 460V416.8h1V460zM186 460V424.4h1V460zM187 460V433.2h1V460zM188 460V443.1h1V460zM189 460V454.1h1V460zM191 460V450.8h1V460zM192 460V440.4h1V460zM193 460V431.1h1V460zM194 460V423.0h1V460zM195 460V416.1h1V460zM196 460V410.6h1V460zM197 460V406.4h1V460zM198 460V403.8h1V460zM199 460V403.1h1V460zM200 460V404.6h1V460zM201 460V407.9h1V460zM202 460V412.6h1V460zM203 460V418.7h1V460zM204 460V426.0h1V460zM205 460V434.6h1V460zM206 460V444.4h1V460zM207 460V455.3h1V460zM211 460V446.4h1V460zM212 460V436.4h1V460zM213 460V427.9h1V460zM214 460V420.8h1V460zM215 460V415.1h1V460zM216 460V411.1h1V460zM217 460V409.0h1V460zM218 460V409.2h1V460zM219 460V411.8h1V460zM220 460V416.1h1V460zM221 460V422.1h1V460zM222 460V429.5h1V460zM223 460V438.3h1V460zM224 460V448.5h1V460zM228 460V449.4h1V460zM229 460V440.8h1V460zM230 460V433.3h1V460zM231 460V426.7h1V460zM232 460V421.3h1V460zM233 460V417.0h1V460zM234 460V414.0h1V460zM235 460V412.3h1V460zM236 460V412.5h1V460zM237 460V414.5h1V460zM238 460V417.8h1V460zM239 460V422.3h1V460zM240 460V428.0h1V460zM241 460V434.7h1V460zM242 460V442.5h1V460zM243 460V451.3h1V460zM248 460V453.6h1V460zM249 460V445.5h1V460zM250 460V438.6h1V460zM251 460V433.1h1V460zM252 460V429.0h1V460zM253 460V426.5h1V460zM254 460V426.0h1V460zM255 460V427.8h1V460zM256 460V431.3h1V460zM257 460V436.3h1V460zM258 460V442.6h1V460zM259 460V450.2h1V460zM303 460V449.6h1V460zM304 460V441.6h1V460zM305 460V435.1h1V460zM306 460V430.0h1V460zM307 460V426.6h1V460zM308 460V425.0h1V460zM309 460V426.1h1V460zM310 460V429.2h1V460zM311 460V433.9h1V460zM312 460V440.2h1V460zM313 460V447.9h1V460zM314 460V457.0h1V460z" fill="#0000ff"/>
<rect x="109" y="389" width="1" height="71" fill="#000080"/>
<rect x="127" y="391" width="1" height="69" fill="#000080"/>
<rect x="145" y="393" width="1" height="67" fill="#000080"/>
<rect x="163" y="397" width="1" height="63" fill="#000080"/>
<rect x="181" y="401" width="1" height="59" fill="#000080"/>
<rect x="199" y="405" width="1" height="55" fill="#000080"/>
<rect x="218" y="411" width="1" height="49" fill="#000080"/>
<rect x="236" y="414" width="1" height="46" fill="#000080"/>
<rect x="254" y="428" width="1" height="32" fill="#000080"/>
<rect x="308" y="427" width="1" height="33" fill="#000080"/>
<path d="M101 538V523.8h1V538zM102 538V512.1h1V538zM103 538V501.6h1V538zM104 538V492.3h1V538zM105 538V484.2h1V538zM106 538V477.4h1V538zM107 538V472.0h1V538zM108 538V468.0h1V538zM109 538V465.7h1V538zM110 538V465.4h1V538zM111 538V467.4h1V538zM112 538V471.1h1V538zM113 538V476.2h1V538zM114 538V482.7h1V538zM115 538V490.6h1V538zM116 538V499.6h1V538zM117 538V509.9h1V538zM118 538V521.4h1V538zM119 538V529.4h1V538zM120 538V516.1h1V538zM121 538V504.3h1V538zM122 538V493.9h1V538zM123 538V484.9h1V538zM124 538V477.6h1V538zM125 538V471.8h1V538zM126 538V467.9h1V538zM127 538V466.0h1V538zM128 538V466.9h1V538zM129 538V470.0h1V538zM130 538V475.1h1V538zM131 538V481.8h1V538zM132 538V490.1h1V538zM133 538V499.9h1V538zM134 538V511.2h1V538zM135 538V523.9h1V538zM137 538V523.5h1V538zM138 538V510.5h1V538zM139 538V499.2h1V538zM140 538V489.5h1V538zM141 538V481.5h1V538zM142 538V475.3h1V538zM143 538V471.2h1V538zM144 538V469.3h1V538zM145 538V470.6h1V538zM146 538V474.4h1V538zM147 538V480.1h1V538zM148 538V487.7h1V538zM149 538V497.1h1V538zM150 538V508.1h1V538zM151 538V520.8h1V538zM154 538V531.4h1V538zM155 538V519.1h1V538zM156 538V508.1h1V538zM157 538V498.4h1V538zM158 538V490.2h1V538zM159 538V483.4h1V538zM160 538V478.2h1V538zM161 538V474.7h1V538zM162 538V473.1h1V538zM163 538V474.2h1V538zM164 538V477.4h1V538zM165 538V482.3h1V538zM166 538V488.7h1V538zM167 538V496.7h1V538zM168 538V506.0h1V538zM169 538V516.8h1V538zM170 538V528.8h1V538zM173 538V532.7h1V538zM174 538V520.5h1V538zM175 538V509.7h1V538zM176 538V500.2h1V538zM177 538V492.2h1V538zM178 538V485.7h1V538zM179 538V480.9h1V538zM180 538V477.8h1V538zM181 538V477.0h1V538zM182 538V478.8h1V538zM183 538V482.6h1V538zM184 538V488.1h1V538zM185 538V495.2h1V538zM186 538V503.8h1V538zM187 538V513.8h1V538zM188 538V525.2h1V538zM192 538V529.2h1V538zM193 538V517.9h1V538zM194 538V507.9h1V538zM195 538V499.3h1V538zM196 538V492.2h1V538zM197 538V486.7h1V538zM198 538V482.9h1V538zM199 538V481.1h1V538zM200 538V481.9h1V538zM201 538V485.0h1V538zM202 538V489.8h1V538zM203 538V496.3h1V538zM204 538V504.2h1V538zM205 538V513.7h1V538zM206 538V524.5h1V538zM211 538V525.6h1V538zM212 538V515.7h1V538zM213 538V507.1h1V538zM214 538V499.8h1V538zM215 538V494.0h1V538zM216 538V489.6h1V538zM217 538V487.0h1V538zM218 538V486.4h1V538zM219 538V488.4h1V538zM220 538V492.0h1V538zM221 538V497.3h1V538zM222 538V504.0h1V538zM223 538V512.1h1V538zM224 538V521.5h1V538zM225 538V532.2h1V538zM229 538V529.3h1V538zM230 538V519.5h1V538zM231 538V511.0h1V538zM232 538V503.9h1V538zM233 538V498.0h1V538zM234 538V493.7h1V538zM235 538V490.9h1V538zM236 538V490.2h1V538zM237 538V491.8h1V538zM238 538V495.2h1V538zM239 538V500.2h1V538zM240 538V506.6h1V538zM241 538V514.3h1V538zM242 538V523.3h1V538zM243 538V533.6h1V538zM248 538V534.5h1V538zM249 538V526.6h1V538zM250 538V519.7h1V538zM251 538V514.1h1V538zM252 538V509.6h1V538zM253 538V506.5h1V538zM254 538V504.9h1V538zM255 538V505.4h1V538zM256 538V507.6h1V538zM257 538V511.3h1V538zM258 538V516.2h1V538zM259 538V522.3h1V538zM260 538V529.6h1V538zM304 538V530.9h1V538zM305 538V522.0h1V538zM306 538V514.5h1V538zM307 538V508.5h1V538zM308 538V504.1h1V538zM309 538V501.5h1V538zM310 538V501.3h1V538zM311 538V503.5h1V538zM312 538V507.5h1V538zM313 538V513.2h1V538zM314 538V520.4h1V538zM315 538V529.0h1V538z" fill="#ff0000"/>
<rect x="379" y="382" width="1" height="156" fill="#a0a0a0"/>
<rect x="397" y="382" width="1" height="156" fill="#a0a0a0"/>
<rect x="415" y="382" width="1" height="156" fill="#a0a0a0"/>
<rect x="433" y="382" width="1" height="156" fill="#a0a0a0"/>
<rect x="451" y="382" width="1" height="156" fill="#a0a0a0"/>
<rect x="469" y="382" width="1" height="156" fill="#a0a0a0"/>
<rect x="488" y="382" width="1" height="156" fill="#a0a0a0"/>
<rect x="506" y="382" width="1" height="156" fill="#a0a0a0"/>
<rect x="524" y="382" width="1" height="156" fill="#a0a0a0"/>
<rect x="542" y="382" width="1" height="156" fill="#a0a0a0"/>
<rect x="560" y="382" width="1" height="156" fill="#a0a0a0"/>
<rect x="578" y="382" width="1" height="156" fill="#a0a0a0"/>
<path d="M369 460V455.2h1V460zM370 460V443.8h1V460zM371 460V433.4h1V460zM372 460V423.9h1V460zM373 460V415.5h1V460zM374 460V408.1h1V460zM375 460V401.7h1V460zM376 460V396.4h1V460zM377 460V392.3h1V460zM378 460V389.5h1V460zM379 460V388.2h1V460zM380 460V388.8h1V460zM381 460V391.1h1V460zM382 460V394.6h1V460zM383 460V399.4h1V460zM384 460V405.4h1V460zM385 460V412.4h1V460zM386 460V420.4h1V460zM387 460V429.5h1V460zM388 460V439.5h1V460zM389 460V450.5h1V460zM389 460V448.7h1V460zM390 460V435.9h1V460zM391 460V424.4h1V460zM392 460V414.3h1V460zM393 460V405.8h1V460zM394 460V398.8h1V460zM395 460V393.5h1V460zM396 460V389.9h1V460zM397 460V388.5h1V460zM398 460V389.9h1V460zM399 460V393.5h1V460zM400 460V398.8h1V460zM401 460V405.8h1V460zM402 460V414.3h1V460zM403 460V424.4h1V460zM404 460V435.9h1V460zM405 460V448.7h1V460zM407 460V452.6h1V460zM408 460V439.1h1V460zM409 460V427.0h1V460zM410 460V416.5h1V460zM411 460V407.7h1V460zM412 460V400.6h1V460zM413 460V395.3h1V460zM414 460V392.1h1V460zM415 460V391.5h1V460zM416 460V393.8h1V460zM417 460V398.3h1V460zM418 460V404.6h1V460zM419 460V412.8h1V460zM420 460V422.6h1V460zM421 460V434.0h1V460zM422 460V447.0h1V460zM425 460V445.0h1V460zM426 460V432.9h1V460zM427 460V422.3h1V460zM428 460V413.3h1V460zM429 460V406.0h1V460zM430 460V400.3h1V460zM431 460V396.6h1V460zM432 460V395.1h1V460zM433 460V396.6h1V460zM434 460V400.3h1V460zM435 460V406.0h1V460zM436 460V413.3h1V460zM437 460V422.3h1V460zM438 460V432.9h1V460zM439 460V445.0h1V460zM442 460V451.9h1V460zM443 460V441.1h1V460zM444 460V431.5h1V460zM445 460V423.0h1V460zM446 460V415.7h1V460zM447 460V409.6h1V460zM448 460V404.8h1V460zM449 460V401.4h1V460zM450 460V399.5h1V460zM451 460V399.8h1V460zM452 460V402.0h1V460zM453 460V405.7h1V460zM454 460V410.7h1V460zM455 460V417.1h1V460zM456 460V424.6h1V460zM457 460V433.3h1V460zM458 460V443.2h1V460zM459 460V454.1h1V460zM461 460V451.0h1V460zM462 460V440.7h1V460zM463 460V431.6h1V460zM464 460V423.6h1V460zM465 460V416.9h1V460zM466 460V411.4h1V460zM467 460V407.4h1V460zM468 460V404.8h1V460zM469 460V404.1h1V460zM470 460V405.6h1V460zM471 460V408.8h1V460zM472 460V413.4h1V460zM473 460V419.4h1V460zM474 460V426.6h1V460zM475 460V435.1h1V460zM476 460V444.7h1V460zM477 460V455.4h1V460zM481 460V446.2h1V460zM482 460V436.2h1V460zM483 460V427.6h1V460zM484 460V420.5h1V460zM485 460V414.8h1V460zM486 460V410.8h1V460zM487 460V408.6h1V460zM488 460V408.8h1V460zM489 460V411.4h1V460zM490 460V415.8h1V460zM491 460V421.8h1V460zM492 460V429.2h1V460zM493 460V438.1h1V460zM494 460V448.4h1V460zM498 460V449.5h1V460zM499 460V441.0h1V460zM500 460V433.5h1V460zM501 460V427.0h1V460zM502 460V421.6h1V460zM503 460V417.4h1V460zM504 460V414.3h1V460zM505 460V412.7h1V460zM506 460V412.9h1V460zM507 460V414.9h1V460zM508 460V418.1h1V460zM509 460V422.6h1V460zM510 460V428.2h1V460zM511 460V434.9h1V460zM512 460V442.6h1V460zM513 460V451.3h1V460zM518 460V453.8h1V460zM519 460V446.0h1V460zM520 460V439.4h1V460zM521 460V434.1h1V460zM522 460V430.2h1V460zM523 460V427.8h1V460zM524 460V427.3h1V460zM525 460V429.1h1V460zM526 460V432.4h1V460zM527 460V437.2h1V460zM528 460V443.2h1V460zM529 460V450.6h1V460zM571 460V453.0h1V460zM572 460V444.2h1V460zM573 460V436.9h1V460zM574 460V431.0h1V460zM575 460V426.8h1V460zM576 460V424.4h1V460zM577 460V424.4h1V460zM578 460V426.8h1V460zM579 460V431.0h1V460zM580 460V436.9h1V460zM581 460V444.2h1V460zM582 460V453.0h1V460z" fill="#0000ff"/>
<rect x="379" y="390" width="1" height="70" fill="#000080"/>
<rect x="397" y="390" width="1" height="70" fill="#000080"/>
<rect x="415" y="393" width="1" height="67" fill="#000080"/>
<rect x="433" y="397" width="1" height="63" fill="#000080"/>
<rect x="451" y="401" width="1" height="59" fill="#000080"/>
<rect x="469" y="406" width="1" height="54" fill="#000080"/>
<rect x="488" y="410" width="1" height="50" fill="#000080"/>
<rect x="506" y="414" width="1" height="46" fill="#000080"/>
<rect x="524" y="429" width="1" height="31" fill="#000080"/>
<rect x="578" y="426" width="1" height="34" fill="#000080"/>
<path d="M371 538V523.8h1V538zM372 538V512.1h1V538zM373 538V501.5h1V538zM374 538V492.2h1V538zM375 538V484.1h1V538zM376 538V477.3h1V538zM377 538V471.8h1V538zM378 538V467.8h1V538zM379 538V465.5h1V538zM380 538V465.2h1V538zM381 538V467.2h1V538zM382 538V470.9h1V538zM383 538V476.1h1V538zM384 538V482.6h1V538zM385 538V490.4h1V538zM386 538V499.5h1V538zM387 538V509.8h1V538zM388 538V521.3h1V538zM389 538V534.0h1V538zM389 538V529.4h1V538zM390 538V516.2h1V538zM391 538V504.3h1V538zM392 538V493.9h1V538zM393 538V485.0h1V538zM394 538V477.7h1V538zM395 538V471.9h1V538zM396 538V468.0h1V538zM397 538V466.1h1V538zM398 538V467.0h1V538zM399 538V470.1h1V538zM400 538V475.2h1V538zM401 538V481.9h1V538zM402 538V490.2h1V538zM403 538V500.0h1V538zM404 538V511.3h1V538zM405 538V523.9h1V538zM407 538V523.4h1V538zM408 538V510.4h1V538zM409 538V499.0h1V538zM410 538V489.3h1V538zM411 538V481.2h1V538zM412 538V475.1h1V538zM413 538V470.9h1V538zM414 538V469.0h1V538zM415 538V470.3h1V538zM416 538V474.1h1V538zM417 538V479.9h1V538zM418 538V487.5h1V538zM419 538V496.9h1V538zM420 538V508.0h1V538zM421 538V520.7h1V538zM424 538V531.4h1V538zM425 538V519.1h1V538zM426 538V508.2h1V538zM427 538V498.6h1V538zM428 538V490.4h1V538zM429 538V483.6h1V538zM430 538V478.4h1V538zM431 538V474.9h1V538zM432 538V473.3h1V538zM433 538V474.4h1V538zM434 538V477.6h1V538zM435 538V482.4h1V538zM436 538V488.9h1V538zM437 538V496.8h1V538zM438 538V506.1h1V538zM439 538V516.8h1V538zM440 538V528.8h1V538zM443 538V532.7h1V538zM444 538V520.5h1V538zM445 538V509.6h1V538zM446 538V500.1h1V538zM447 538V492.1h1V538zM448 538V485.6h1V538zM449 538V480.7h1V538zM450 538V477.6h1V538zM451 538V476.8h1V538zM452 538V478.6h1V538zM453 538V482.4h1V538zM454 538V488.0h1V538zM455 538V495.1h1V538zM456 538V503.7h1V538zM457 538V513.8h1V538zM458 538V525.2h1V538zM462 538V529.2h1V538zM463 538V517.7h1V538zM464 538V507.7h1V538zM465 538V499.1h1V538zM466 538V492.0h1V538zM467 538V486.4h1V538zM468 538V482.6h1V538zM469 538V480.8h1V538zM470 538V481.6h1V538zM471 538V484.7h1V538zM472 538V489.6h1V538zM473 538V496.0h1V538zM474 538V504.1h1V538zM475 538V513.6h1V538zM476 538V524.4h1V538zM481 538V525.7h1V538zM482 538V515.9h1V538zM483 538V507.3h1V538zM484 538V500.1h1V538zM485 538V494.3h1V538zM486 538V490.0h1V538zM487 538V487.4h1V538zM488 538V486.8h1V538zM489 538V488.7h1V538zM490 538V492.4h1V538zM491 538V497.6h1V538zM492 538V504.3h1V538zM493 538V512.3h1V538zM494 538V521.6h1V538zM495 538V532.2h1V538zM499 538V529.3h1V538zM500 538V519.5h1V538zM501 538V511.0h1V538zM502 538V503.8h1V538zM503 538V498.0h1V538zM504 538V493.6h1V538zM505 538V490.8h1V538zM506 538V490.1h1V538zM507 538V491.7h1V538zM508 538V495.2h1V538zM509 538V500.1h1V538zM510 538V506.5h1V538zM511 538V514.2h1V538zM512 538V523.3h1V538zM513 538V533.5h1V538zM518 538V534.4h1V538zM519 538V526.3h1V538zM520 538V519.3h1V538zM521 538V513.5h1V538zM522 538V509.0h1V538zM523 538V505.8h1V538zM524 538V504.1h1V538zM525 538V504.6h1V538zM526 538V506.9h1V538zM527 538V510.6h1V538zM528 538V515.7h1V538zM529 538V522.0h1V538zM530 538V529.4h1V538zM574 538V530.9h1V538zM575 538V522.0h1V538zM576 538V514.5h1V538zM577 538V508.5h1V538zM578 538V504.1h1V538zM579 538V501.5h1V538zM580 538V501.3h1V538zM581 538V503.5h1V538zM582 538V507.5h1V538zM583 538V513.2h1V538zM584 538V520.4h1V538zM585 538V529.0h1V538z" fill="#ff0000"/>
<rect x="649" y="382" width="1" height="156" fill="#a0a0a0"/>
<rect x="667" y="382" width="1" height="156" fill="#a0a0a0"/>
<rect x="685" y="382" width="1" height="156" fill="#a0a0a0"/>
<rect x="703" y="382" width="1" height="156" fill="#a0a0a0"/>
<rect x="721" y="382" width="1" height="156" fill="#a0a0a0"/>
<rect x="739" y="382" width="1" height="156" fill="#a0a0a0"/>
<rect x="758" y="382" width="1" height="156" fill="#a0a0a0"/>
<rect x="776" y="382" width="1" height="156" fill="#a0a0a0"/>
<rect x="794" y="382" width="1" height="156" fill="#a0a0a0"/>
<rect x="812" y="382" width="1" height="156" fill="#a0a0a0"/>
<rect x="830" y="382" width="1" height="156" fill="#a0a0a0"/>
<rect x="848" y="382" width="1" height="156" fill="#a0a0a0"/>
<path d="M639 460V455.2h1V460zM640 460V443.9h1V460zM641 460V433.5h1V460zM642 460V424.1h1V460zM643 460V415.7h1V460zM644 460V408.3h1V460zM645 460V402.0h1V460zM646 460V396.8h1V460zM647 460V392.7h1V460zM648 460V389.9h1V460zM649 460V388.6h1V460zM650 460V389.2h1V460zM651 460V391.4h1V460zM652 460V395.0h1V460zM653 460V399.8h1V460zM654 460V405.7h1V460zM655 460V412.7h1V460zM656 460V420.7h1V460zM657 460V429.7h1V460zM658 460V439.6h1V460zM659 460V450.6h1V460zM659 460V448.6h1V460zM660 460V435.7h1V460zM661 460V424.1h1V460zM662 460V414.0h1V460zM663 460V405.4h1V460zM664 460V398.4h1V460zM665 460V393.0h1V460zM666 460V389.4h1V460zM667 460V388.0h1V460zM668 460V389.4h1V460zM669 460V393.0h1V460zM670 460V398.4h1V460zM671 460V405.4h1V460zM672 460V414.0h1V460zM673 460V424.1h1V460zM674 460V435.7h1V460zM675 460V448.6h1V460zM677 460V452.6h1V460zM678 460V439.1h1V460zM679 460V427.0h1V460zM680 460V416.5h1V460zM681 460V407.7h1V460zM682 460V400.6h1V460zM683 460V395.3h1V460zM684 460V392.1h1V460zM685 460V391.5h1V460zM686 460V393.8h1V460zM687 460V398.3h1V460zM688 460V404.6h1V460zM689 460V412.8h1V460zM690 460V422.6h1V460zM691 460V434.0h1V460zM692 460V447.0h1V460zM695 460V445.0h1V460zM696 460V432.9h1V460zM697 460V422.3h1V460zM698 460V413.3h1V460zM699 460V406.0h1V460zM700 460V400.3h1V460zM701 460V396.6h1V460zM702 460V395.1h1V460zM703 460V396.6h1V460zM704 460V400.3h1V460zM705 460V406.0h1V460zM706 460V413.3h1V460zM707 460V422.3h1V460zM708 460V432.9h1V460zM709 460V445.0h1V460zM712 460V451.9h1V460zM713 460V441.1h1V460zM714 460V431.5h1V460zM715 460V423.0h1V460zM716 460V415.7h1V460zM717 460V409.6h1V460zM718 460V404.8h1V460zM719 460V401.4h1V460zM720 460V399.5h1V460zM721 460V399.8h1V460zM722 460V402.0h1V460zM723 460V405.7h1V460zM724 460V410.7h1V460zM725 460V417.1h1V460zM726 460V424.6h1V460zM727 460V433.3h1V460zM728 460V443.2h1V460zM729 460V454.1h1V460zM731 460V450.9h1V460zM732 460V440.6h1V460zM733 460V431.4h1V460zM734 460V423.3h1V460zM735 460V416.6h1V460zM736 460V411.1h1V460zM737 460V407.0h1V460zM738 460V404.4h1V460zM739 460V403.7h1V460zM740 460V405.2h1V460zM741 460V408.4h1V460zM742 460V413.1h1V460zM743 460V419.1h1V460zM744 460V426.4h1V460zM745 460V434.9h1V460zM746 460V444.6h1V460zM747 460V455.4h1V460zM751 460V446.6h1V460zM752 460V436.9h1V460zM753 460V428.5h1V460zM754 460V421.5h1V460zM755 460V416.0h1V460zM756 460V412.1h1V460zM757 460V410.0h1V460zM758 460V410.2h1V460zM759 460V412.7h1V460zM760 460V417.0h1V460zM761 460V422.8h1V460zM762 460V430.1h1V460zM763 460V438.7h1V460zM764 460V448.7h1V460zM768 460V449.5h1V460zM769 460V441.0h1V460zM770 460V433.5h1V460zM771 460V427.0h1V460zM772 460V421.6h1V460zM773 460V417.4h1V460zM774 460V414.3h1V460zM775 460V412.7h1V460zM776 460V412.9h1V460zM777 460V414.9h1V460zM778 460V418.1h1V460zM779 460V422.6h1V460zM780 460V428.2h1V460zM781 460V434.9h1V460zM782 460V442.6h1V460zM783 460V451.3h1V460zM788 460V453.8h1V460zM789 460V446.0h1V460zM790 460V439.4h1V460zM791 460V434.1h1V460zM792 460V430.2h1V460zM793 460V427.8h1V460zM794 460V427.3h1V460zM795 460V429.1h1V460zM796 460V432.4h1V460zM797 460V437.2h1V460zM798 460V443.2h1V460zM799 460V450.6h1V460zM840 460V456.9h1V460zM841 460V447.4h1V460zM842 460V439.3h1V460zM843 460V432.8h1V460zM844 460V427.8h1V460zM845 460V424.6h1V460zM846 460V423.5h1V460zM847 460V425.1h1V460zM848 460V428.7h1V460zM849 460V434.0h1V460zM850 460V440.8h1V460zM851 460V449.2h1V460z" fill="#0000ff"/>
<rect x="649" y="390" width="1" height="70" fill="#000080"/>
<rect x="667" y="390" width="1" height="70" fill="#000080"/>
<rect x="685" y="393" width="1" height="67" fill="#000080"/>
<rect x="703" y="397" width="1" height="63" fill="#000080"/>
<rect x="721" y="401" width="1" height="59" fill="#000080"/>
<rect x="739" y="406" width="1" height="54" fill="#000080"/>
<rect x="758" y="412" width="1" height="48" fill="#000080"/>
<rect x="776" y="414" width="1" height="46" fill="#000080"/>
<rect x="794" y="429" width="1" height="31" fill="#000080"/>
<rect x="848" y="426" width="1" height="34" fill="#000080"/>
<path d="M641 538V523.8h1V538zM642 538V512.1h1V538zM643 538V501.5h1V538zM644 538V492.2h1V538zM645 538V484.1h1V538zM646 538V477.3h1V538zM647 538V471.8h1V538zM648 538V467.8h1V538zM649 538V465.5h1V538zM650 538V465.2h1V538zM651 538V467.2h1V538zM652 538V470.9h1V538zM653 538V476.1h1V538zM654 538V482.6h1V538zM655 538V490.4h1V538zM656 538V499.5h1V538zM657 538V509.8h1V538zM658 538V521.3h1V538zM659 538V534.0h1V538zM659 538V529.4h1V538zM660 538V516.2h1V538zM661 538V504.3h1V538zM662 538V493.9h1V538zM663 538V485.0h1V538zM664 538V477.7h1V538zM665 538V471.9h1V538zM666 538V468.0h1V538zM667 538V466.1h1V538zM668 538V467.0h1V538zM669 538V470.1h1V538zM670 538V475.2h1V538zM671 538V481.9h1V538zM672 538V490.2h1V538zM673 538V500.0h1V538zM674 538V511.3h1V538zM675 538V523.9h1V538zM677 538V523.4h1V538zM678 538V510.4h1V538zM679 538V499.0h1V538zM680 538V489.3h1V538zM681 538V481.2h1V538zM682 538V475.1h1V538zM683 538V470.9h1V538zM684 538V469.0h1V538zM685 538V470.3h1V538zM686 538V474.1h1V538zM687 538V479.9h1V538zM688 538V487.5h1V538zM689 538V496.9h1V538zM690 538V508.0h1V538zM691 538V520.7h1V538zM694 538V531.4h1V538zM695 538V519.1h1V538zM696 538V508.2h1V538zM697 538V498.6h1V538zM698 538V490.4h1V538zM699 538V483.6h1V538zM700 538V478.4h1V538zM701 538V474.9h1V538zM702 538V473.3h1V538zM703 538V474.4h1V538zM704 538V477.6h1V538zM705 538V482.4h1V538zM706 538V488.9h1V538zM707 538V496.8h1V538zM708 538V506.1h1V538zM709 538V516.8h1V538zM710 538V528.8h1V538zM713 538V532.8h1V538zM714 538V520.6h1V538zM715 538V509.8h1V538zM716 538V500.5h1V538zM717 538V492.5h1V538zM718 538V486.1h1V538zM719 538V481.3h1V538zM720 538V478.2h1V538zM721 538V477.4h1V538zM722 538V479.2h1V538zM723 538V483.0h1V538zM724 538V488.5h1V538zM725 538V495.5h1V538zM726 538V504.0h1V538zM727 538V514.0h1V538zM728 538V525.3h1V538zM732 538V529.3h1V538zM733 538V518.1h1V538zM734 538V508.2h1V538zM735 538V499.8h1V538zM736 538V492.8h1V538zM737 538V487.3h1V538zM738 538V483.6h1V538zM739 538V481.8h1V538zM740 538V482.6h1V538zM741 538V485.6h1V538zM742 538V490.4h1V538zM743 538V496.8h1V538zM744 538V504.7h1V538zM745 538V514.0h1V538zM746 538V524.7h1V538zM751 538V525.7h1V538zM752 538V515.9h1V538zM753 538V507.3h1V538zM754 538V500.1h1V538zM755 538V494.3h1V538zM756 538V490.0h1V538zM757 538V487.4h1V538zM758 538V486.8h1V538zM759 538V488.7h1V538zM760 538V492.4h1V538zM761 538V497.6h1V538zM762 538V504.3h1V538zM763 538V512.3h1V538zM764 538V521.6h1V538zM765 538V532.2h1V538zM769 538V529.3h1V538zM770 538V519.5h1V538zM771 538V511.0h1V538zM772 538V503.8h1V538zM773 538V498.0h1V538zM774 538V493.6h1V538zM775 538V490.8h1V538zM776 538V490.1h1V538zM777 538V491.7h1V538zM778 538V495.2h1V538zM779 538V500.1h1V538zM780 538V506.5h1V538zM781 538V514.2h1V538zM782 538V523.3h1V538zM783 538V533.5h1V538zM788 538V534.5h1V538zM789 538V526.4h1V538zM790 538V519.5h1V538zM791 538V513.7h1V538zM792 538V509.2h1V538zM793 538V506.1h1V538zM794 538V504.4h1V538zM795 538V504.9h1V538zM796 538V507.2h1V538zM797 538V510.9h1V538zM798 538V515.9h1V538zM799 538V522.1h1V538zM800 538V529.5h1V538zM844 538V531.0h1V538zM845 538V522.1h1V538zM846 538V514.7h1V538zM847 538V508.8h1V538zM848 538V504.4h1V538zM849 538V501.8h1V538zM850 538V501.6h1V538zM851 538V503.7h1V538zM852 538V507.8h1V538zM853 538V513.4h1V538zM854 538V520.5h1V538zM855 538V529.1h1V538z" fill="#ff0000"/>
<path d="M133.5 50.5V59.5M131.5 52.5L133.5 50.5L135.5 52.5M131.5 57.5L133.5 59.5L135.5 57.5" stroke="#000" stroke-width="1" fill="none" shape-rendering="auto"/>
<rect x="85" y="455" width="1" height="5" fill="#0000ff"/>
<rect x="367" y="455" width="2" height="5" fill="#8080ff"/>
<rect x="622" y="455" width="2" height="5" fill="#8080ff"/>
<rect x="632" y="455" width="1" height="5" fill="#0000ff"/>
<rect x="635" y="455" width="1" height="5" fill="#0000ff"/>
</svg>
<div class="t" style="left:30px;top:5px;letter-spacing:0.17px">PxScan version</div>
<div class="t" style="left:119px;top:5px">:</div>
<div class="t" style="left:130px;top:5px">PxScan v1.7.2, built Oct  6 2005 17:41:29</div>
<div class="t" style="left:30px;top:20px;letter-spacing:0.17px">Manufacturer ID</div>
<div class="t" style="left:119px;top:20px">:</div>
<div class="t" style="left:130px;top:20px">MCC 02RG20</div>
<div class="t" style="left:30px;top:35px;letter-spacing:0.17px">writer used</div>
<div class="t" style="left:119px;top:35px">:</div>
<div class="t" style="left:130px;top:35px">&lt;n/a&gt;</div>
<div class="t" style="left:30px;top:50px;letter-spacing:0.17px">disc capacity</div>
<div class="t" style="left:119px;top:50px">:</div>
<div class="t" style="left:30px;top:65px;letter-spacing:0.17px">scanned</div>
<div class="t" style="left:119px;top:65px">:</div>
<div class="t" style="left:130px;top:65px">PLEXTOR DVDR PX-716A 1.09 TLA: #0304 @ 2x</div>
<div class="t" style="left:30px;top:80px;letter-spacing:0.17px">comment</div>
<div class="t" style="left:119px;top:80px">:</div>
<div class="yl" style="top:99px;color:#0000ff">500</div>
<div class="yl" style="top:162px;color:#ff0000">0.10</div>
<div class="yl" style="top:227px;color:#0000ff">700</div>
<div class="yl" style="top:291px;color:#ff0000">-0.10</div>
<div class="yl" style="top:357px;color:#0000ff">900</div>
<div class="pl" style="left:153.5px;top:367px">128 MB</div>
<div class="pl" style="left:423.5px;top:367px">1664 MB</div>
<div class="pl" style="left:693.5px;top:367px">3712 MB</div>
<div class="t" style="left:30.0px;top:544px;">Beta</div>
<div class="t" style="left:119.0px;top:544px;">:</div>
<div class="t" style="left:125.3px;top:544px;letter-spacing:-0.6px">&#8722;3.0%</div>
<div class="t" style="left:155.5px;top:544px;">..</div>
<div class="t" style="left:163.3px;top:544px;letter-spacing:-0.6px">4.3%</div>
<div class="t" style="left:30.0px;top:559px;letter-spacing:0.45px">TA Test Zone 1</div>
<div class="t" style="left:119.5px;top:559px;">avg:</div>
<div class="t" style="left:142.3px;top:559px;">10.6</div>
<div class="t" style="left:167.3px;top:559px;">&#8722;</div>
<div class="t" style="left:176.6px;top:559px;letter-spacing:0.25px">3T&#8722;11T/14T:</div>
<div class="t" style="left:245.3px;top:559px;">11.5,</div>
<div class="t" style="left:272.0px;top:559px;">9.8,</div>
<div class="t" style="left:291.8px;top:559px;">9.7,</div>
<div class="t" style="left:311.8px;top:559px;">10.4,</div>
<div class="t" style="left:337.5px;top:559px;">10.9,</div>
<div class="t" style="left:363.9px;top:559px;">10.7,</div>
<div class="t" style="left:389.9px;top:559px;">10.8,</div>
<div class="t" style="left:415.6px;top:559px;">11.3,</div>
<div class="t" style="left:441.1px;top:559px;">10.8,</div>
<div class="t" style="left:468.1px;top:559px;">9.9</div>
<div class="t" style="left:30.0px;top:574px;letter-spacing:0.45px">TA Test Zone 2</div>
<div class="t" style="left:119.5px;top:574px;">avg:</div>
<div class="t" style="left:142.3px;top:574px;">11.0</div>
<div class="t" style="left:167.3px;top:574px;">&#8722;</div>
<div class="t" style="left:176.6px;top:574px;letter-spacing:0.25px">3T&#8722;11T/14T:</div>
<div class="t" style="left:245.3px;top:574px;">12.2,</div>
<div class="t" style="left:272.0px;top:574px;">9.6,</div>
<div class="t" style="left:291.8px;top:574px;">9.9,</div>
<div class="t" style="left:311.8px;top:574px;">10.9,</div>
<div class="t" style="left:337.5px;top:574px;">11.3,</div>
<div class="t" style="left:363.9px;top:574px;">11.2,</div>
<div class="t" style="left:389.9px;top:574px;">11.2,</div>
<div class="t" style="left:415.6px;top:574px;">11.2,</div>
<div class="t" style="left:441.1px;top:574px;">11.0,</div>
<div class="t" style="left:468.1px;top:574px;">9.3</div>
<div class="t" style="left:30.0px;top:589px;letter-spacing:0.45px">TA Test Zone 3</div>
<div class="t" style="left:119.5px;top:589px;">avg:</div>
<div class="t" style="left:142.3px;top:589px;">11.0</div>
<div class="t" style="left:167.3px;top:589px;">&#8722;</div>
<div class="t" style="left:176.6px;top:589px;letter-spacing:0.25px">3T&#8722;11T/14T:</div>
<div class="t" style="left:245.3px;top:589px;">12.4,</div>
<div class="t" style="left:272.0px;top:589px;">9.4,</div>
<div class="t" style="left:291.8px;top:589px;">9.8,</div>
<div class="t" style="left:311.8px;top:589px;">11.0,</div>
<div class="t" style="left:337.5px;top:589px;">11.3,</div>
<div class="t" style="left:363.9px;top:589px;">11.4,</div>
<div class="t" style="left:389.9px;top:589px;">11.4,</div>
<div class="t" style="left:415.6px;top:589px;">11.6,</div>
<div class="t" style="left:441.1px;top:589px;">11.1,</div>
<div class="t" style="left:468.1px;top:589px;">9.7</div>
</body></html>
